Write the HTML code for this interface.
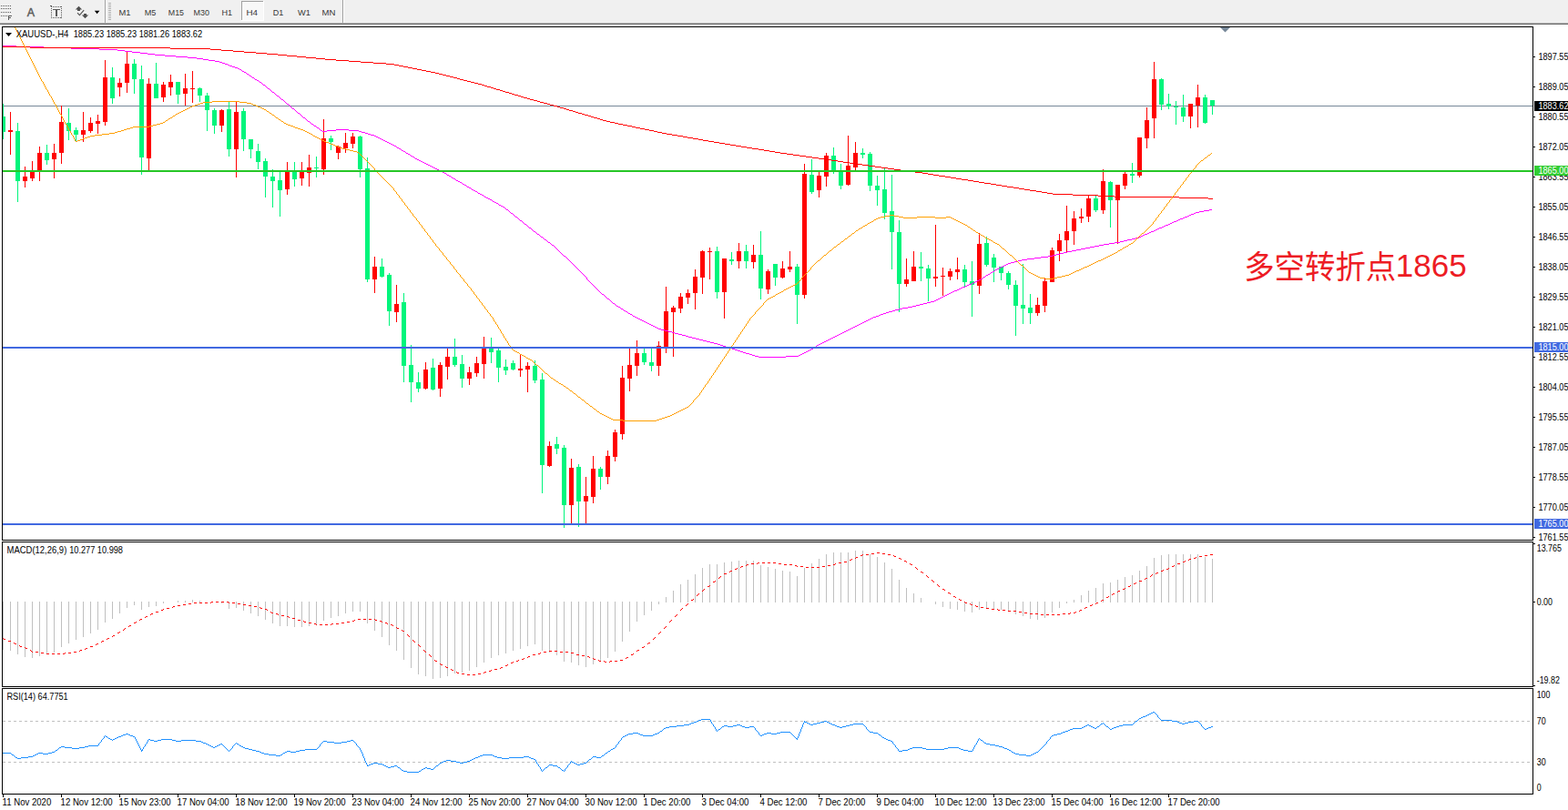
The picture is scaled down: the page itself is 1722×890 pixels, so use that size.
<!DOCTYPE html><html><head><meta charset="utf-8"><title>XAUUSD H4</title>
<style>html,body{margin:0;padding:0;background:#fff}body{width:1722px;height:890px;overflow:hidden;position:relative;font-family:"Liberation Sans",sans-serif}svg{position:absolute;left:0;top:0}text{font-family:"Liberation Sans",sans-serif}</style></head><body>
<svg width="1722" height="890" viewBox="0 0 1722 890">
<g shape-rendering="crispEdges">
<rect x="0" y="0" width="1722" height="25" fill="#f0f0f0"/>
<rect x="0" y="25" width="1722" height="1" fill="#acacac"/>
<rect x="0" y="26" width="1722" height="1" fill="#6c6c6c"/>
<rect x="115" y="0" width="1" height="25" fill="#a0a0a0"/><rect x="116" y="0" width="1" height="25" fill="#ffffff"/>
<rect x="376" y="0" width="1" height="25" fill="#a0a0a0"/><rect x="377" y="0" width="1" height="25" fill="#ffffff"/>
<rect x="119" y="3" width="3" height="1" fill="#b0b0b0"/>
<rect x="119" y="5" width="3" height="1" fill="#b0b0b0"/>
<rect x="119" y="7" width="3" height="1" fill="#b0b0b0"/>
<rect x="119" y="9" width="3" height="1" fill="#b0b0b0"/>
<rect x="119" y="11" width="3" height="1" fill="#b0b0b0"/>
<rect x="119" y="13" width="3" height="1" fill="#b0b0b0"/>
<rect x="119" y="15" width="3" height="1" fill="#b0b0b0"/>
<rect x="119" y="17" width="3" height="1" fill="#b0b0b0"/>
<rect x="119" y="19" width="3" height="1" fill="#b0b0b0"/>
<rect x="119" y="21" width="3" height="1" fill="#b0b0b0"/>
<rect x="265" y="1" width="25" height="22" fill="#f8f8f8"/>
<rect x="265" y="1" width="25" height="1" fill="#a0a0a0"/><rect x="265" y="1" width="1" height="22" fill="#a0a0a0"/>
<rect x="265" y="22" width="25" height="1" fill="#ffffff"/><rect x="289" y="1" width="1" height="22" fill="#ffffff"/>
</g>
<g shape-rendering="crispEdges" fill="#5a5a5a"><rect x="1" y="6" width="1" height="1"/><rect x="3" y="6" width="1" height="1"/><rect x="5" y="6" width="1" height="1"/><rect x="7" y="6" width="1" height="1"/><rect x="9" y="6" width="1" height="1"/><rect x="11" y="6" width="1" height="1"/><rect x="1" y="9" width="1" height="1"/><rect x="3" y="9" width="1" height="1"/><rect x="5" y="9" width="1" height="1"/><rect x="7" y="9" width="1" height="1"/><rect x="9" y="9" width="1" height="1"/><rect x="11" y="9" width="1" height="1"/><rect x="1" y="13" width="1" height="1"/><rect x="3" y="13" width="1" height="1"/><rect x="5" y="13" width="1" height="1"/><rect x="7" y="13" width="1" height="1"/><rect x="9" y="13" width="1" height="1"/><rect x="11" y="13" width="1" height="1"/><rect x="1" y="17" width="1" height="1"/><rect x="3" y="17" width="1" height="1"/><rect x="5" y="17" width="1" height="1"/><rect x="7" y="17" width="1" height="1"/><rect x="9" y="17" width="1" height="5"/><rect x="9" y="17" width="4" height="1"/><rect x="9" y="19" width="3" height="1"/><rect x="56" y="7" width="1" height="1"/><rect x="56" y="19" width="1" height="1"/><rect x="58" y="7" width="1" height="1"/><rect x="58" y="19" width="1" height="1"/><rect x="60" y="7" width="1" height="1"/><rect x="60" y="19" width="1" height="1"/><rect x="62" y="7" width="1" height="1"/><rect x="62" y="19" width="1" height="1"/><rect x="64" y="7" width="1" height="1"/><rect x="64" y="19" width="1" height="1"/><rect x="66" y="7" width="1" height="1"/><rect x="66" y="19" width="1" height="1"/><rect x="56" y="9" width="1" height="1"/><rect x="67" y="9" width="1" height="1"/><rect x="56" y="11" width="1" height="1"/><rect x="67" y="11" width="1" height="1"/><rect x="56" y="13" width="1" height="1"/><rect x="67" y="13" width="1" height="1"/><rect x="56" y="15" width="1" height="1"/><rect x="67" y="15" width="1" height="1"/><rect x="56" y="17" width="1" height="1"/><rect x="67" y="17" width="1" height="1"/><rect x="55" y="6" width="2" height="1"/><rect x="67" y="7" width="1" height="1"/><rect x="67" y="19" width="1" height="1"/><rect x="58" y="10" width="8" height="1"/><rect x="61" y="10" width="2" height="8"/></g>
<text x="29.700" y="18" font-size="12.400" fill="#5a5a5a" stroke="#5a5a5a" stroke-width="0.450">A</text>
<path fill="#505050" d="M86.500 6.800L90.200 10.600H88V12H85V10.600H82.800zM93.500 20.200L89.800 16.400H92V15H95V16.400H97.200z"/>
<path fill="none" stroke="#505050" stroke-width="1.100" d="M85 14.200L87.400 16.600L92.200 11.200"/>
<path fill="#000" d="M103.800 11.800H109.400L106.600 15.200z"/>
<text x="130.4" y="17" font-size="9.500" fill="#383838" textLength="13.0" lengthAdjust="spacingAndGlyphs">M1</text>
<text x="158.7" y="17" font-size="9.500" fill="#383838" textLength="12.6" lengthAdjust="spacingAndGlyphs">M5</text>
<text x="184.8" y="17" font-size="9.500" fill="#383838" textLength="17.2" lengthAdjust="spacingAndGlyphs">M15</text>
<text x="212.6" y="17" font-size="9.500" fill="#383838" textLength="17.4" lengthAdjust="spacingAndGlyphs">M30</text>
<text x="243.5" y="17" font-size="9.500" fill="#383838" textLength="11.6" lengthAdjust="spacingAndGlyphs">H1</text>
<text x="270.4" y="17" font-size="9.500" fill="#383838" textLength="12.6" lengthAdjust="spacingAndGlyphs">H4</text>
<text x="299.7" y="17" font-size="9.500" fill="#383838" textLength="11.6" lengthAdjust="spacingAndGlyphs">D1</text>
<text x="327.1" y="17" font-size="9.500" fill="#383838" textLength="13.9" lengthAdjust="spacingAndGlyphs">W1</text>
<text x="353.6" y="17" font-size="9.500" fill="#383838" textLength="14.9" lengthAdjust="spacingAndGlyphs">MN</text>
<g shape-rendering="crispEdges" fill="none" stroke="#000" stroke-width="1">
<path d="M2.5 29.5H1683.5M2.5 593.5H1683.5M2.5 29V594M1683.5 29V594"/>
<path d="M2.5 595.5H1683.5M2.5 754.5H1683.5M2.5 595V755M1683.5 595V755"/>
<path d="M2.5 756.5H1683.5M2.5 872.5H1683.5M2.5 756V873M1683.5 756V873"/>
</g>
<defs><clipPath id="cm"><rect x="3" y="30" width="1680" height="563"/></clipPath></defs>
<g clip-path="url(#cm)">
<rect x="3" y="116" width="1680" height="1" fill="#778899" shape-rendering="crispEdges"/>
<g shape-rendering="crispEdges">
<path fill="#00f57c" d="M3 114h1V153h-1zM1 128h5V145h-5zM19 135h1V222h-1zM17 144h5V199h-5zM51 159h1V181h-1zM49 168h5V176h-5zM75 119h1V154h-1zM73 135h5V144h-5zM83 140h1V156h-1zM81 143h5V148h-5zM123 74h1V114h-1zM121 85h5V108h-5zM147 65h1V103h-1zM145 70h5V87h-5zM155 72h1V192h-1zM153 87h5V173h-5zM171 69h1V108h-1zM169 92h5V108h-5zM195 90h1V114h-1zM193 90h5V104h-5zM219 96h1V112h-1zM217 97h5V105h-5zM227 102h1V144h-1zM225 105h5V121h-5zM235 119h1V147h-1zM233 121h5V138h-5zM251 112h1V172h-1zM249 120h5V164h-5zM267 119h1V166h-1zM265 122h5V153h-5zM275 153h1V174h-1zM273 153h5V164h-5zM283 158h1V186h-1zM281 166h5V178h-5zM291 174h1V217h-1zM289 177h5V194h-5zM299 186h1V228h-1zM297 194h5V199h-5zM307 189h1V238h-1zM305 198h5V209h-5zM323 178h1V205h-1zM321 189h5V197h-5zM347 172h1V195h-1zM345 184h5V185h-5zM363 149h1V165h-1zM361 152h5V156h-5zM395 149h1V195h-1zM393 150h5V186h-5zM403 173h1V310h-1zM401 185h5V307h-5zM419 284h1V305h-1zM417 293h5V304h-5zM427 300h1V358h-1zM425 302h5V342h-5zM443 322h1V420h-1zM441 332h5V402h-5zM451 379h1V442h-1zM449 401h5V420h-5zM459 409h1V431h-1zM457 420h5V427h-5zM475 394h1V429h-1zM473 404h5V428h-5zM499 372h1V403h-1zM497 392h5V401h-5zM507 390h1V426h-1zM505 400h5V416h-5zM539 371h1V399h-1zM537 383h5V387h-5zM547 383h1V420h-1zM545 385h5V404h-5zM555 395h1V412h-1zM553 403h5V407h-5zM563 396h1V407h-1zM561 399h5V406h-5zM587 396h1V421h-1zM585 402h5V418h-5zM595 410h1V542h-1zM593 417h5V511h-5zM611 480h1V499h-1zM609 488h5V493h-5zM619 489h1V580h-1zM617 492h5V555h-5zM635 510h1V579h-1zM633 513h5V551h-5zM659 513h1V538h-1zM657 515h5V524h-5zM707 383h1V401h-1zM705 388h5V398h-5zM715 383h1V408h-1zM713 398h5V402h-5zM787 271h1V328h-1zM785 276h5V321h-5zM803 277h1V291h-1zM801 285h5V287h-5zM819 269h1V295h-1zM817 276h5V287h-5zM835 254h1V329h-1zM833 280h5V317h-5zM851 290h1V314h-1zM849 290h5V305h-5zM875 290h1V356h-1zM873 293h5V324h-5zM891 175h1V213h-1zM889 192h5V211h-5zM915 162h1V191h-1zM913 171h5V187h-5zM923 180h1V208h-1zM921 187h5V204h-5zM947 163h1V174h-1zM945 168h5V170h-5zM955 167h1V210h-1zM953 169h5V204h-5zM963 193h1V226h-1zM961 204h5V209h-5zM971 185h1V241h-1zM969 208h5V234h-5zM979 192h1V296h-1zM977 232h5V255h-5zM987 242h1V343h-1zM985 255h5V312h-5zM1011 277h1V309h-1zM1009 293h5V295h-5zM1019 291h1V331h-1zM1017 295h5V306h-5zM1059 291h1V315h-1zM1057 296h5V310h-5zM1067 287h1V348h-1zM1065 309h5V313h-5zM1083 260h1V293h-1zM1081 267h5V291h-5zM1091 279h1V310h-1zM1089 283h5V294h-5zM1099 293h1V308h-1zM1097 293h5V300h-5zM1107 298h1V318h-1zM1105 300h5V313h-5zM1115 308h1V369h-1zM1113 313h5V336h-5zM1123 290h1V356h-1zM1121 335h5V339h-5zM1131 323h1V356h-1zM1129 338h5V344h-5zM1203 214h1V233h-1zM1201 218h5V231h-5zM1219 199h1V250h-1zM1217 200h5V220h-5zM1243 179h1V201h-1zM1241 191h5V193h-5zM1275 86h1V121h-1zM1273 87h5V115h-5zM1283 103h1V120h-1zM1281 114h5V117h-5zM1291 111h1V137h-1zM1289 117h5V118h-5zM1299 104h1V134h-1zM1297 118h5V128h-5zM1323 104h1V136h-1zM1321 107h5V135h-5zM1331 110h1V126h-1zM1329 110h5V116h-5z"/>
<path fill="#ff0000" d="M11 123h1V170h-1zM9 143h5V145h-5zM27 183h1V206h-1zM25 194h5V199h-5zM35 177h1V199h-1zM33 189h5V196h-5zM43 161h1V199h-1zM41 168h5V188h-5zM59 158h1V196h-1zM57 168h5V175h-5zM67 116h1V180h-1zM65 134h5V168h-5zM91 123h1V156h-1zM89 143h5V148h-5zM99 129h1V146h-1zM97 135h5V144h-5zM107 126h1V147h-1zM105 133h5V136h-5zM115 66h1V138h-1zM113 85h5V134h-5zM131 86h1V106h-1zM129 91h5V96h-5zM139 57h1V102h-1zM137 70h5V91h-5zM163 86h1V187h-1zM161 92h5V174h-5zM179 90h1V112h-1zM177 93h5V107h-5zM187 82h1V105h-1zM185 90h5V96h-5zM203 81h1V116h-1zM201 97h5V103h-5zM211 78h1V113h-1zM209 97h5V98h-5zM243 120h1V145h-1zM241 121h5V138h-5zM259 112h1V195h-1zM257 123h5V164h-5zM315 178h1V214h-1zM313 189h5V208h-5zM331 178h1V204h-1zM329 189h5V196h-5zM339 170h1V205h-1zM337 184h5V190h-5zM355 131h1V192h-1zM353 152h5V186h-5zM371 160h1V175h-1zM369 161h5V168h-5zM379 146h1V168h-1zM377 157h5V163h-5zM387 146h1V163h-1zM385 150h5V158h-5zM411 282h1V322h-1zM409 293h5V307h-5zM435 313h1V354h-1zM433 334h5V343h-5zM467 398h1V428h-1zM465 406h5V427h-5zM483 398h1V436h-1zM481 401h5V427h-5zM491 383h1V417h-1zM489 392h5V403h-5zM515 403h1V423h-1zM513 409h5V416h-5zM523 392h1V414h-1zM521 399h5V410h-5zM531 370h1V416h-1zM529 383h5V400h-5zM571 389h1V414h-1zM569 405h5V407h-5zM579 398h1V431h-1zM577 402h5V406h-5zM603 485h1V513h-1zM601 490h5V512h-5zM627 504h1V575h-1zM625 514h5V555h-5zM643 524h1V575h-1zM641 545h5V551h-5zM651 501h1V553h-1zM649 515h5V546h-5zM667 495h1V532h-1zM665 501h5V524h-5zM675 472h1V507h-1zM673 475h5V502h-5zM683 402h1V483h-1zM681 415h5V477h-5zM691 383h1V430h-1zM689 401h5V416h-5zM699 374h1V413h-1zM697 388h5V402h-5zM723 375h1V413h-1zM721 380h5V402h-5zM731 315h1V388h-1zM729 342h5V381h-5zM739 336h1V392h-1zM737 338h5V343h-5zM747 322h1V344h-1zM745 326h5V339h-5zM755 318h1V334h-1zM753 322h5V327h-5zM763 296h1V340h-1zM761 304h5V322h-5zM771 275h1V323h-1zM769 276h5V305h-5zM779 272h1V307h-1zM777 276h5V277h-5zM795 284h1V350h-1zM793 284h5V321h-5zM811 267h1V295h-1zM809 276h5V287h-5zM827 269h1V295h-1zM825 280h5V288h-5zM843 296h1V323h-1zM841 298h5V318h-5zM859 287h1V306h-1zM857 295h5V305h-5zM867 276h1V299h-1zM865 293h5V296h-5zM883 180h1V328h-1zM881 191h5V324h-5zM899 189h1V217h-1zM897 193h5V209h-5zM907 168h1V205h-1zM905 171h5V194h-5zM931 149h1V204h-1zM929 182h5V203h-5zM939 156h1V187h-1zM937 168h5V184h-5zM995 284h1V315h-1zM993 307h5V312h-5zM1003 276h1V309h-1zM1001 293h5V309h-5zM1027 247h1V315h-1zM1025 304h5V306h-5zM1035 294h1V325h-1zM1033 303h5V304h-5zM1043 295h1V308h-1zM1041 298h5V304h-5zM1051 283h1V307h-1zM1049 296h5V299h-5zM1075 256h1V323h-1zM1073 268h5V314h-5zM1139 327h1V347h-1zM1137 335h5V344h-5zM1147 305h1V343h-1zM1145 309h5V336h-5zM1155 272h1V310h-1zM1153 275h5V310h-5zM1163 257h1V287h-1zM1161 264h5V276h-5zM1171 226h1V277h-1zM1169 254h5V264h-5zM1179 232h1V269h-1zM1177 240h5V254h-5zM1187 229h1V245h-1zM1185 238h5V240h-5zM1195 214h1V244h-1zM1193 218h5V238h-5zM1211 186h1V235h-1zM1209 199h5V231h-5zM1227 203h1V268h-1zM1225 203h5V220h-5zM1235 189h1V208h-1zM1233 191h5V204h-5zM1251 151h1V195h-1zM1249 151h5V193h-5zM1259 118h1V163h-1zM1257 132h5V152h-5zM1267 68h1V152h-1zM1265 87h5V130h-5zM1307 114h1V141h-1zM1305 114h5V128h-5zM1315 93h1V140h-1zM1313 107h5V116h-5z"/>
</g>
<path fill="#ff00ff" shape-rendering="crispEdges" d="M644 305h1v2h-1zM613 275h1v1h-1zM1177 275h5v1h-5zM621 282h1v1h-1zM1143 282h8v1h-8zM247 70h3v1h-3zM443 166h2v1h-2zM351 142h1v1h-1zM369 142h14v1h-14zM626 287h1v1h-1zM1114 287h4v1h-4zM563 235h1v1h-1zM1308 235h3v1h-3zM589 256h1v1h-1zM1260 256h2v1h-2zM435 161h1v1h-1zM689 343h1v1h-1zM973 343h3v1h-3zM181 61h12v1h-12zM829 391h4v1h-4zM863 391h14v1h-14zM436 162h2v1h-2zM596 261h1v1h-1zM1247 261h4v1h-4zM641 302h1v1h-1zM1083 302h2v1h-2zM741 366h4v1h-4zM923 366h2v1h-2zM565 237h1v1h-1zM1304 237h2v1h-2zM606 269h2v1h-2zM1207 269h5v1h-5zM532 216h2v1h-2zM223 65h6v1h-6zM525 212h2v1h-2zM633 294h1v1h-1zM1097 294h2v1h-2zM600 264h1v1h-1zM1234 264h4v1h-4zM162 59h8v1h-8zM48 52h30v1h-30zM610 272h1v1h-1zM1192 272h5v1h-5zM304 105h2v1h-2zM315 114h2v1h-2zM491 192h2v1h-2zM206 63h10v1h-10zM651 313h1v1h-1zM1062 313h2v1h-2zM604 267h1v1h-1zM1218 267h6v1h-6zM78 53h31v1h-31zM653 315h1v1h-1zM1057 315h3v1h-3zM695 347h2v1h-2zM962 347h3v1h-3zM833 392h30v1h-30zM438 163h2v1h-2zM584 252h1v1h-1zM1269 252h2v1h-2zM643 304h1v1h-1zM1080 304h2v1h-2zM137 56h8v1h-8zM3 50h15v1h-15zM585 253h1v1h-1zM1267 253h2v1h-2zM677 336h2v1h-2zM1002 336h4v1h-4zM1077 306h2v1h-2zM655 317h1v1h-1zM1053 317h2v1h-2zM568 239h1v1h-1zM1299 239h2v1h-2zM431 159h2v1h-2zM423 155h2v1h-2zM415 151h2v1h-2zM170 60h11v1h-11zM570 241h1v1h-1zM1294 241h2v1h-2zM407 148h4v1h-4zM520 209h2v1h-2zM513 205h2v1h-2zM18 51h30v1h-30zM601 265h1v1h-1zM1230 265h4v1h-4zM586 254h2v1h-2zM1264 254h3v1h-3zM756 370h4v1h-4zM915 370h2v1h-2zM745 367h4v1h-4zM921 367h2v1h-2zM764 372h4v1h-4zM911 372h2v1h-2zM154 58h8v1h-8zM667 328h2v1h-2zM1030 328h2v1h-2zM823 389h3v1h-3zM879 389h2v1h-2zM193 62h13v1h-13zM453 172h2v1h-2zM1079 305h1v1h-1zM768 373h4v1h-4zM909 373h2v1h-2zM628 289h1v1h-1zM1107 289h3v1h-3zM580 249h1v1h-1zM1276 249h2v1h-2zM707 353h2v1h-2zM949 353h2v1h-2zM699 349h2v1h-2zM957 349h2v1h-2zM672 332h1v1h-1zM1018 332h4v1h-4zM826 390h3v1h-3zM877 390h2v1h-2zM550 226h2v1h-2zM661 323h2v1h-2zM1040 323h2v1h-2zM797 381h3v1h-3zM894 381h2v1h-2zM623 284h1v1h-1zM1128 284h8v1h-8zM354 144h5v1h-5zM394 144h3v1h-3zM508 202h2v1h-2zM216 64h7v1h-7zM648 310h1v1h-1zM1069 310h2v1h-2zM676 335h1v1h-1zM1006 335h4v1h-4zM794 380h3v1h-3zM896 380h1v1h-1zM559 232h1v1h-1zM1317 232h5v1h-5zM574 244h1v1h-1zM1287 244h2v1h-2zM352 143h2v1h-2zM359 143h10v1h-10zM383 143h11v1h-11zM772 374h4v1h-4zM907 374h2v1h-2zM701 350h2v1h-2zM955 350h2v1h-2zM564 236h1v1h-1zM1306 236h2v1h-2zM629 290h1v1h-1zM1105 290h2v1h-2zM575 245h1v1h-1zM1285 245h2v1h-2zM635 296h1v1h-1zM1093 296h2v1h-2zM441 165h2v1h-2zM685 341h2v1h-2zM980 341h3v1h-3zM576 246h2v1h-2zM1283 246h2v1h-2zM687 342h2v1h-2zM976 342h4v1h-4zM545 223h2v1h-2zM538 219h2v1h-2zM657 319h1v1h-1zM1048 319h3v1h-3zM684 340h1v1h-1zM983 340h4v1h-4zM647 309h1v1h-1zM1071 309h2v1h-2zM738 365h3v1h-3zM925 365h2v1h-2zM496 195h2v1h-2zM690 344h2v1h-2zM970 344h3v1h-3zM810 385h3v1h-3zM887 385h2v1h-2zM776 375h4v1h-4zM905 375h2v1h-2zM671 331h1v1h-1zM1022 331h4v1h-4zM560 233h1v1h-1zM1313 233h4v1h-4zM571 242h2v1h-2zM1292 242h2v1h-2zM581 250h2v1h-2zM1273 250h3v1h-3zM429 158h2v1h-2zM421 154h2v1h-2zM597 262h1v1h-1zM1243 262h4v1h-4zM682 339h2v1h-2zM987 339h4v1h-4zM615 277h1v1h-1zM1168 277h4v1h-4zM518 208h2v1h-2zM813 386h3v1h-3zM885 386h2v1h-2zM663 324h1v1h-1zM1038 324h2v1h-2zM109 54h20v1h-20zM713 356h2v1h-2zM943 356h2v1h-2zM338 133h2v1h-2zM618 280h1v1h-1zM1156 280h4v1h-4zM484 188h2v1h-2zM327 124h2v1h-2zM791 379h3v1h-3zM897 379h2v1h-2zM458 175h2v1h-2zM711 355h2v1h-2zM945 355h2v1h-2zM566 238h2v1h-2zM1301 238h3v1h-3zM637 298h1v1h-1zM1090 298h2v1h-2zM548 225h2v1h-2zM417 152h2v1h-2zM634 295h1v1h-1zM1095 295h2v1h-2zM569 240h1v1h-1zM1296 240h3v1h-3zM333 129h2v1h-2zM505 200h2v1h-2zM507 201h1v1h-1zM323 120h1v1h-1zM446 168h2v1h-2zM670 330h1v1h-1zM1026 330h2v1h-2zM241 68h3v1h-3zM726 362h4v1h-4zM931 362h2v1h-2zM592 258h1v1h-1zM1255 258h2v1h-2zM244 69h3v1h-3zM692 345h2v1h-2zM967 345h3v1h-3zM543 222h2v1h-2zM658 320h1v1h-1zM1046 320h2v1h-2zM536 218h2v1h-2zM804 383h3v1h-3zM891 383h2v1h-2zM734 364h4v1h-4zM927 364h2v1h-2zM493 193h2v1h-2zM495 194h1v1h-1zM638 299h1v1h-1zM1088 299h2v1h-2zM593 259h1v1h-1zM1253 259h2v1h-2zM679 337h2v1h-2zM997 337h5v1h-5zM760 371h4v1h-4zM913 371h2v1h-2zM588 255h1v1h-1zM1262 255h2v1h-2zM531 215h1v1h-1zM556 230h2v1h-2zM1328 230h3v1h-3zM427 157h2v1h-2zM419 153h2v1h-2zM522 210h2v1h-2zM675 334h1v1h-1zM1010 334h4v1h-4zM524 211h1v1h-1zM342 136h2v1h-2zM649 311h1v1h-1zM1067 311h2v1h-2zM288 92h1v1h-1zM788 378h3v1h-3zM899 378h2v1h-2zM482 187h2v1h-2zM474 183h2v1h-2zM612 274h1v1h-1zM1182 274h5v1h-5zM631 292h1v1h-1zM1101 292h2v1h-2zM456 174h2v1h-2zM784 377h4v1h-4zM901 377h2v1h-2zM583 251h1v1h-1zM1271 251h2v1h-2zM664 325h1v1h-1zM1036 325h2v1h-2zM594 260h2v1h-2zM1251 260h2v1h-2zM413 150h2v1h-2zM608 270h1v1h-1zM1202 270h5v1h-5zM510 203h2v1h-2zM512 204h1v1h-1zM717 358h2v1h-2zM939 358h2v1h-2zM697 348h2v1h-2zM959 348h3v1h-3zM578 247h1v1h-1zM1280 247h3v1h-3zM579 248h1v1h-1zM1278 248h2v1h-2zM590 257h2v1h-2zM1257 257h3v1h-3zM541 221h2v1h-2zM624 285h1v1h-1zM1122 285h6v1h-6zM345 138h2v1h-2zM498 196h2v1h-2zM500 197h1v1h-1zM252 72h3v1h-3zM602 266h2v1h-2zM1224 266h6v1h-6zM669 329h1v1h-1zM1028 329h2v1h-2zM666 327h1v1h-1zM1032 327h2v1h-2zM529 214h2v1h-2zM705 352h2v1h-2zM951 352h2v1h-2zM807 384h3v1h-3zM889 384h2v1h-2zM709 354h2v1h-2zM947 354h2v1h-2zM330 126h1v1h-1zM341 135h1v1h-1zM486 189h2v1h-2zM488 190h2v1h-2zM480 186h2v1h-2zM266 78h2v1h-2zM640 301h1v1h-1zM1085 301h2v1h-2zM145 57h9v1h-9zM681 338h1v1h-1zM991 338h6v1h-6zM730 363h4v1h-4zM929 363h2v1h-2zM630 291h1v1h-1zM1103 291h2v1h-2zM598 263h2v1h-2zM1238 263h5v1h-5zM819 388h4v1h-4zM881 388h2v1h-2zM236 67h5v1h-5zM673 333h2v1h-2zM1014 333h4v1h-4zM411 149h2v1h-2zM517 207h1v1h-1zM336 131h1v1h-1zM337 132h1v1h-1zM639 300h1v1h-1zM1087 300h1v1h-1zM280 87h2v1h-2zM780 376h4v1h-4zM903 376h2v1h-2zM636 297h1v1h-1zM1092 297h1v1h-1zM616 278h1v1h-1zM1164 278h4v1h-4zM753 369h3v1h-3zM917 369h2v1h-2zM321 119h2v1h-2zM332 128h1v1h-1zM294 97h2v1h-2zM715 357h2v1h-2zM941 357h2v1h-2zM652 314h1v1h-1zM1060 314h2v1h-2zM719 359h2v1h-2zM937 359h2v1h-2zM654 316h1v1h-1zM1055 316h2v1h-2zM642 303h1v1h-1zM1082 303h1v1h-1zM534 217h2v1h-2zM527 213h2v1h-2zM347 139h1v1h-1zM271 81h2v1h-2zM291 94h1v1h-1zM478 185h2v1h-2zM425 156h2v1h-2zM816 387h3v1h-3zM883 387h2v1h-2zM129 55h8v1h-8zM800 382h4v1h-4zM893 382h1v1h-1zM558 231h1v1h-1zM1322 231h6v1h-6zM515 206h2v1h-2zM285 90h2v1h-2zM619 281h2v1h-2zM1151 281h5v1h-5zM609 271h1v1h-1zM1197 271h5v1h-5zM650 312h1v1h-1zM1064 312h3v1h-3zM348 140h2v1h-2zM501 198h2v1h-2zM503 199h2v1h-2zM274 83h2v1h-2zM605 268h1v1h-1zM1212 268h6v1h-6zM622 283h1v1h-1zM1136 283h7v1h-7zM404 147h3v1h-3zM344 137h1v1h-1zM490 191h1v1h-1zM268 79h2v1h-2zM270 80h1v1h-1zM614 276h1v1h-1zM1172 276h5v1h-5zM646 308h1v1h-1zM1073 308h2v1h-2zM229 66h7v1h-7zM573 243h1v1h-1zM1289 243h3v1h-3zM470 181h2v1h-2zM723 361h3v1h-3zM933 361h2v1h-2zM464 178h2v1h-2zM659 321h1v1h-1zM1044 321h2v1h-2zM749 368h4v1h-4zM919 368h2v1h-2zM335 130h1v1h-1zM279 86h1v1h-1zM401 146h3v1h-3zM617 279h1v1h-1zM1160 279h4v1h-4zM611 273h1v1h-1zM1187 273h5v1h-5zM665 326h1v1h-1zM1034 326h2v1h-2zM261 75h2v1h-2zM476 184h2v1h-2zM468 180h2v1h-2zM263 76h2v1h-2zM460 176h2v1h-2zM284 89h1v1h-1zM277 85h2v1h-2zM627 288h1v1h-1zM1110 288h4v1h-4zM448 169h2v1h-2zM645 307h1v1h-1zM1075 307h2v1h-2zM273 82h1v1h-1zM250 71h2v1h-2zM472 182h2v1h-2zM258 74h3v1h-3zM466 179h2v1h-2zM299 101h2v1h-2zM301 102h1v1h-1zM312 111h1v1h-1zM282 88h2v1h-2zM721 360h2v1h-2zM935 360h2v1h-2zM397 145h4v1h-4zM296 98h1v1h-1zM307 107h1v1h-1zM297 99h1v1h-1zM308 108h1v1h-1zM625 286h1v1h-1zM1118 286h4v1h-4zM660 322h1v1h-1zM1042 322h2v1h-2zM292 95h1v1h-1zM303 104h1v1h-1zM314 113h1v1h-1zM265 77h1v1h-1zM632 293h1v1h-1zM1099 293h2v1h-2zM287 91h1v1h-1zM298 100h1v1h-1zM561 234h2v1h-2zM1311 234h2v1h-2zM451 171h2v1h-2zM293 96h1v1h-1zM694 346h1v1h-1zM965 346h2v1h-2zM656 318h1v1h-1zM1051 318h2v1h-2zM440 164h1v1h-1zM289 93h2v1h-2zM255 73h3v1h-3zM326 123h1v1h-1zM703 351h2v1h-2zM953 351h2v1h-2zM554 228h1v1h-1zM555 229h1v1h-1zM309 109h2v1h-2zM311 110h1v1h-1zM445 167h1v1h-1zM276 84h1v1h-1zM306 106h1v1h-1zM433 160h2v1h-2zM302 103h1v1h-1zM462 177h2v1h-2zM552 227h2v1h-2zM450 170h1v1h-1zM547 224h1v1h-1zM540 220h1v1h-1zM317 115h1v1h-1zM318 116h1v1h-1zM329 125h1v1h-1zM340 134h1v1h-1zM313 112h1v1h-1zM324 121h1v1h-1zM325 122h1v1h-1zM455 173h1v1h-1zM319 117h1v1h-1zM350 141h1v1h-1zM320 118h1v1h-1zM331 127h1v1h-1z"/>
<path fill="#ff0000" shape-rendering="crispEdges" d="M1044 195h6v1h-6zM1178 214h28v1h-28zM369 66h14v1h-14zM532 94h3v1h-3zM722 145h5v1h-5zM778 155h6v1h-6zM933 179h7v1h-7zM1088 202h6v1h-6zM33 52h154v1h-154zM187 53h44v1h-44zM656 130h3v1h-3zM871 170h7v1h-7zM1131 209h7v1h-7zM525 92h4v1h-4zM1138 210h6v1h-6zM920 177h6v1h-6zM698 140h5v1h-5zM1156 213h22v1h-22zM448 74h5v1h-5zM293 59h12v1h-12zM1063 198h6v1h-6zM555 101h4v1h-4zM857 168h7v1h-7zM796 158h6v1h-6zM1106 205h7v1h-7zM433 71h5v1h-5zM243 55h13v1h-13zM559 102h3v1h-3zM1150 212h6v1h-6zM281 58h12v1h-12zM615 118h4v1h-4zM940 180h7v1h-7zM535 95h4v1h-4zM713 143h5v1h-5zM3 51h30v1h-30zM582 109h4v1h-4zM1019 191h6v1h-6zM639 125h3v1h-3zM814 161h6v1h-6zM968 184h7v1h-7zM1125 208h6v1h-6zM569 105h3v1h-3zM1069 199h6v1h-6zM1113 206h6v1h-6zM892 173h7v1h-7zM424 70h9v1h-9zM231 54h12v1h-12zM478 80h4v1h-4zM833 164h6v1h-6zM268 57h13v1h-13zM593 112h4v1h-4zM878 171h7v1h-7zM1081 201h7v1h-7zM1224 216h71v1h-71zM517 90h4v1h-4zM961 183h7v1h-7zM494 84h4v1h-4zM619 119h3v1h-3zM383 67h13v1h-13zM326 62h10v1h-10zM790 157h6v1h-6zM1327 218h5v1h-5zM482 81h4v1h-4zM989 187h8v1h-8zM305 60h10v1h-10zM315 61h11v1h-11zM913 176h7v1h-7zM410 69h14v1h-14zM808 160h6v1h-6zM443 73h5v1h-5zM347 64h10v1h-10zM505 87h4v1h-4zM1295 217h32v1h-32zM1013 190h6v1h-6zM694 139h4v1h-4zM851 167h6v1h-6zM498 85h4v1h-4zM899 174h7v1h-7zM839 165h6v1h-6zM473 79h5v1h-5zM826 163h7v1h-7zM982 186h7v1h-7zM767 153h5v1h-5zM590 111h3v1h-3zM256 56h12v1h-12zM906 175h7v1h-7zM954 182h7v1h-7zM490 83h4v1h-4zM784 156h6v1h-6zM357 65h12v1h-12zM649 128h3v1h-3zM396 68h14v1h-14zM438 72h5v1h-5zM502 86h3v1h-3zM689 138h5v1h-5zM744 149h6v1h-6zM675 135h4v1h-4zM1100 204h6v1h-6zM727 146h5v1h-5zM1144 211h6v1h-6zM1038 194h6v1h-6zM975 185h7v1h-7zM761 152h6v1h-6zM802 159h6v1h-6zM1056 197h7v1h-7zM552 100h3v1h-3zM1206 215h18v1h-18zM718 144h4v1h-4zM586 110h4v1h-4zM1119 207h6v1h-6zM612 117h3v1h-3zM738 148h6v1h-6zM997 188h8v1h-8zM670 134h5v1h-5zM336 63h11v1h-11zM845 166h6v1h-6zM549 99h3v1h-3zM1005 189h8v1h-8zM1050 196h6v1h-6zM608 116h4v1h-4zM468 78h5v1h-5zM529 93h3v1h-3zM453 75h5v1h-5zM632 123h3v1h-3zM562 103h3v1h-3zM947 181h7v1h-7zM732 147h6v1h-6zM666 133h4v1h-4zM642 126h4v1h-4zM635 124h4v1h-4zM521 91h4v1h-4zM629 122h3v1h-3zM463 77h5v1h-5zM755 151h6v1h-6zM662 132h4v1h-4zM864 169h7v1h-7zM542 97h3v1h-3zM885 172h7v1h-7zM458 76h5v1h-5zM575 107h4v1h-4zM545 98h4v1h-4zM601 114h3v1h-3zM604 115h4v1h-4zM1031 193h7v1h-7zM708 142h5v1h-5zM579 108h3v1h-3zM1075 200h6v1h-6zM772 154h6v1h-6zM926 178h7v1h-7zM565 104h4v1h-4zM625 121h4v1h-4zM486 82h4v1h-4zM659 131h3v1h-3zM513 89h4v1h-4zM684 137h5v1h-5zM1094 203h6v1h-6zM539 96h3v1h-3zM703 141h5v1h-5zM572 106h3v1h-3zM622 120h3v1h-3zM597 113h4v1h-4zM820 162h6v1h-6zM1025 192h6v1h-6zM509 88h4v1h-4zM652 129h4v1h-4zM679 136h5v1h-5zM750 150h5v1h-5zM646 127h3v1h-3z"/>
<path fill="#ffa000" shape-rendering="crispEdges" d="M40 77h1v2h-1zM821 353h1v2h-1zM25 47h1v2h-1zM1313 182h1v2h-1zM770 429h1v2h-1zM1308 188h1v2h-1zM65 123h1v2h-1zM460 244h1v2h-1zM68 128h1v2h-1zM1305 192h1v2h-1zM805 377h1v2h-1zM1296 204h1v2h-1zM529 333h1v2h-1zM801 383h1v2h-1zM74 139h1v2h-1zM547 359h1v2h-1zM38 73h1v2h-1zM78 146h1v2h-1zM1284 220h1v2h-1zM20 37h1v2h-1zM23 43h1v2h-1zM447 227h1v2h-1zM67 126h1v2h-1zM70 132h1v2h-1zM795 392h1v2h-1zM553 369h1v2h-1zM557 375h1v2h-1zM791 398h1v2h-1zM16 29h1v2h-1zM517 317h1v2h-1zM520 321h1v2h-1zM59 112h1v2h-1zM546 357h1v2h-1zM549 362h1v2h-1zM498 293h1v2h-1zM838 333h1v2h-1zM33 63h1v2h-1zM555 372h1v2h-1zM558 377h1v2h-1zM478 268h1v2h-1zM774 423h1v2h-1zM57 108h1v2h-1zM441 219h1v2h-1zM58 110h1v2h-1zM532 337h1v2h-1zM61 115h1v2h-1zM797 389h1v2h-1zM809 371h1v2h-1zM49 94h1v2h-1zM50 96h1v2h-1zM31 59h1v2h-1zM466 252h1v2h-1zM1272 236h1v2h-1zM561 381h1v2h-1zM535 341h1v2h-1zM444 223h1v2h-1zM48 92h1v2h-1zM819 356h1v2h-1zM783 410h1v2h-1zM815 362h1v2h-1zM77 144h1v2h-1zM779 416h1v2h-1zM80 149h1v2h-1zM811 368h1v2h-1zM22 41h1v2h-1zM435 211h1v2h-1zM69 130h1v2h-1zM1293 208h1v2h-1zM880 305h1v2h-1zM42 81h1v2h-1zM39 75h1v2h-1zM82 153h1v2h-1zM789 401h1v2h-1zM24 45h1v2h-1zM785 407h1v2h-1zM71 134h1v2h-1zM463 248h1v2h-1zM890 294h1v2h-1zM63 119h1v2h-1zM550 364h1v2h-1zM1299 200h1v2h-1zM450 231h1v2h-1zM15 27h1v2h-1zM18 33h1v2h-1zM1281 224h1v2h-1zM501 297h1v2h-1zM1266 244h1v2h-1zM32 61h1v2h-1zM1269 240h1v2h-1zM793 395h1v2h-1zM17 31h1v2h-1zM52 99h1v2h-1zM768 432h1v2h-1zM469 256h1v2h-1zM41 79h1v2h-1zM44 85h1v2h-1zM432 207h1v2h-1zM523 325h1v2h-1zM26 49h1v2h-1zM538 345h1v2h-1zM799 386h1v2h-1zM1302 196h1v2h-1zM505 302h1v2h-1zM482 273h1v2h-1zM486 278h1v2h-1zM526 329h1v2h-1zM438 215h1v2h-1zM75 141h1v2h-1zM35 67h1v2h-1zM829 343h1v2h-1zM81 151h1v2h-1zM761 440h1v2h-1zM772 426h1v2h-1zM542 351h1v2h-1zM73 137h1v2h-1zM34 65h1v2h-1zM37 71h1v2h-1zM1287 216h1v2h-1zM807 374h1v2h-1zM509 307h1v2h-1zM19 35h1v2h-1zM62 117h1v2h-1zM803 380h1v2h-1zM1290 212h1v2h-1zM475 264h1v2h-1zM552 367h1v2h-1zM490 283h1v2h-1zM823 350h1v2h-1zM54 103h1v2h-1zM453 235h1v2h-1zM43 83h1v2h-1zM28 53h1v2h-1zM781 413h1v2h-1zM813 365h1v2h-1zM777 419h1v2h-1zM53 101h1v2h-1zM56 106h1v2h-1zM45 87h1v2h-1zM513 312h1v2h-1zM411 185h1v2h-1zM27 51h1v2h-1zM494 288h1v2h-1zM457 240h1v2h-1zM472 260h1v2h-1zM541 349h1v2h-1zM544 354h1v2h-1zM36 69h1v2h-1zM21 39h1v2h-1zM817 359h1v2h-1zM64 121h1v2h-1zM1275 232h1v2h-1zM30 57h1v2h-1zM1278 228h1v2h-1zM787 404h1v2h-1zM47 90h1v2h-1zM29 55h1v2h-1zM930 261h1v1h-1zM1082 261h2v1h-2zM1249 261h1v1h-1zM935 257h1v1h-1zM1075 257h2v1h-2zM1253 257h1v1h-1zM953 245h2v1h-2zM1056 245h2v1h-2zM76 143h1v1h-1zM133 143h3v1h-3zM333 143h2v1h-2zM112 147h8v1h-8zM341 147h2v1h-2zM397 171h1v1h-1zM1326 171h1v1h-1zM456 239h1v1h-1zM964 239h3v1h-3zM992 239h15v1h-15zM1027 239h12v1h-12zM1044 239h2v1h-2zM1270 239h1v1h-1zM72 136h1v1h-1zM172 136h4v1h-4zM314 136h2v1h-2zM644 443h2v1h-2zM759 443h1v1h-1zM195 124h2v1h-2zM296 124h2v1h-2zM459 243h1v1h-1zM957 243h2v1h-2zM1052 243h2v1h-2zM1267 243h1v1h-1zM419 194h1v1h-1zM1304 194h1v1h-1zM477 267h1v1h-1zM922 267h1v1h-1zM1093 267h2v1h-2zM1242 267h2v1h-2zM139 141h4v1h-4zM327 141h3v1h-3zM420 195h1v1h-1zM1303 195h1v1h-1zM908 278h1v1h-1zM1107 278h1v1h-1zM1223 278h2v1h-2zM99 149h5v1h-5zM344 149h2v1h-2zM211 116h3v1h-3zM281 116h2v1h-2zM223 112h10v1h-10zM263 112h8v1h-8zM665 457h2v1h-2zM733 457h3v1h-3zM658 453h1v1h-1zM742 453h2v1h-2zM659 454h2v1h-2zM740 454h2v1h-2zM492 286h1v1h-1zM898 286h2v1h-2zM1116 286h1v1h-1zM1206 286h3v1h-3zM455 238h1v1h-1zM967 238h5v1h-5zM987 238h5v1h-5zM1007 238h20v1h-20zM1039 238h5v1h-5zM1271 238h1v1h-1zM88 153h3v1h-3zM352 153h2v1h-2zM233 111h30v1h-30zM847 326h2v1h-2zM584 396h1v1h-1zM146 139h18v1h-18zM322 139h2v1h-2zM883 302h1v1h-1zM1136 302h2v1h-2zM1170 302h4v1h-4zM467 254h1v1h-1zM939 254h1v1h-1zM1071 254h1v1h-1zM1257 254h1v1h-1zM661 455h2v1h-2zM738 455h2v1h-2zM481 272h1v1h-1zM915 272h1v1h-1zM1100 272h1v1h-1zM1233 272h2v1h-2zM468 255h1v1h-1zM938 255h1v1h-1zM1072 255h2v1h-2zM1256 255h1v1h-1zM1285 219h1v1h-1zM907 279h1v1h-1zM1108 279h1v1h-1zM1221 279h2v1h-2zM181 133h1v1h-1zM309 133h2v1h-2zM405 179h1v1h-1zM1316 179h1v1h-1zM514 314h1v1h-1zM869 314h2v1h-2zM426 201h1v1h-1zM201 121h2v1h-2zM292 121h1v1h-1zM179 134h2v1h-2zM311 134h1v1h-1zM209 117h2v1h-2zM283 117h3v1h-3zM176 135h3v1h-3zM312 135h2v1h-2zM361 157h2v1h-2zM488 281h1v1h-1zM904 281h1v1h-1zM1111 281h1v1h-1zM1217 281h2v1h-2zM129 144h4v1h-4zM335 144h2v1h-2zM363 158h3v1h-3zM85 154h3v1h-3zM354 154h2v1h-2zM164 138h4v1h-4zM319 138h3v1h-3zM654 450h1v1h-1zM748 450h2v1h-2zM396 170h1v1h-1zM1327 170h2v1h-2zM504 301h1v1h-1zM884 301h1v1h-1zM1134 301h2v1h-2zM1174 301h2v1h-2zM655 451h1v1h-1zM746 451h2v1h-2zM1273 235h1v1h-1zM214 115h3v1h-3zM278 115h3v1h-3zM120 146h6v1h-6zM339 146h2v1h-2zM461 246h1v1h-1zM952 246h1v1h-1zM1058 246h2v1h-2zM1265 246h1v1h-1zM465 251h1v1h-1zM943 251h2v1h-2zM1066 251h2v1h-2zM1260 251h1v1h-1zM497 292h1v1h-1zM892 292h1v1h-1zM1123 292h1v1h-1zM1194 292h2v1h-2zM506 304h1v1h-1zM881 304h1v1h-1zM1140 304h2v1h-2zM1161 304h5v1h-5zM585 397h1v1h-1zM792 397h1v1h-1zM495 290h1v1h-1zM894 290h1v1h-1zM1120 290h1v1h-1zM1198 290h2v1h-2zM667 458h2v1h-2zM730 458h3v1h-3zM496 291h1v1h-1zM893 291h1v1h-1zM1121 291h2v1h-2zM1196 291h2v1h-2zM400 174h1v1h-1zM1322 174h1v1h-1zM1279 227h1v1h-1zM168 137h4v1h-4zM316 137h3v1h-3zM977 236h5v1h-5zM924 265h2v1h-2zM1090 265h1v1h-1zM1245 265h1v1h-1zM914 273h1v1h-1zM1101 273h2v1h-2zM1232 273h1v1h-1zM882 303h1v1h-1zM1138 303h2v1h-2zM1166 303h4v1h-4zM936 256h2v1h-2zM1074 256h1v1h-1zM1254 256h2v1h-2zM854 322h2v1h-2zM926 264h1v1h-1zM1088 264h2v1h-2zM1246 264h1v1h-1zM650 447h1v1h-1zM754 447h2v1h-2zM462 247h1v1h-1zM950 247h2v1h-2zM1060 247h2v1h-2zM1264 247h1v1h-1zM873 312h2v1h-2zM187 129h2v1h-2zM303 129h2v1h-2zM184 131h1v1h-1zM306 131h2v1h-2zM955 244h2v1h-2zM1054 244h2v1h-2zM962 240h2v1h-2zM1046 240h2v1h-2zM190 127h2v1h-2zM301 127h1v1h-1zM199 122h2v1h-2zM293 122h2v1h-2zM684 462h37v1h-37zM489 282h1v1h-1zM903 282h1v1h-1zM1112 282h1v1h-1zM1215 282h2v1h-2zM528 332h1v1h-1zM839 332h1v1h-1zM516 316h1v1h-1zM865 316h2v1h-2zM428 203h1v1h-1zM1297 203h1v1h-1zM429 204h1v1h-1zM901 284h1v1h-1zM1114 284h1v1h-1zM1211 284h2v1h-2zM673 461h11v1h-11zM721 461h3v1h-3zM856 321h2v1h-2zM942 252h1v1h-1zM1068 252h1v1h-1zM1259 252h1v1h-1zM891 293h1v1h-1zM1124 293h1v1h-1zM1191 293h3v1h-3zM902 283h1v1h-1zM1113 283h1v1h-1zM1213 283h2v1h-2zM545 356h1v1h-1zM831 341h1v1h-1zM539 347h1v1h-1zM826 347h1v1h-1zM582 395h2v1h-2zM388 166h4v1h-4zM616 422h2v1h-2zM775 422h1v1h-1zM402 176h1v1h-1zM1319 176h2v1h-2zM205 119h2v1h-2zM288 119h2v1h-2zM888 297h1v1h-1zM1128 297h1v1h-1zM1182 297h3v1h-3zM203 120h2v1h-2zM290 120h2v1h-2zM919 269h1v1h-1zM1097 269h1v1h-1zM1239 269h1v1h-1zM220 113h3v1h-3zM271 113h5v1h-5zM358 156h3v1h-3zM487 280h1v1h-1zM905 280h2v1h-2zM1109 280h2v1h-2zM1219 280h2v1h-2zM634 435h1v1h-1zM766 435h1v1h-1zM464 250h1v1h-1zM945 250h2v1h-2zM1065 250h1v1h-1zM1261 250h1v1h-1zM849 325h2v1h-2zM638 438h1v1h-1zM763 438h1v1h-1zM810 370h1v1h-1zM559 379h1v1h-1zM804 379h1v1h-1zM479 270h1v1h-1zM918 270h1v1h-1zM1098 270h1v1h-1zM1237 270h2v1h-2zM570 388h1v1h-1zM798 388h1v1h-1zM524 327h1v1h-1zM845 327h2v1h-2zM423 198h1v1h-1zM1301 198h1v1h-1zM646 444h1v1h-1zM758 444h1v1h-1zM518 319h1v1h-1zM860 319h1v1h-1zM404 178h1v1h-1zM1317 178h1v1h-1zM920 268h2v1h-2zM1095 268h2v1h-2zM1240 268h2v1h-2zM629 431h1v1h-1zM769 431h1v1h-1zM410 184h1v1h-1zM1312 184h1v1h-1zM533 339h1v1h-1zM833 339h1v1h-1zM500 296h1v1h-1zM889 296h1v1h-1zM1127 296h1v1h-1zM1185 296h2v1h-2zM635 436h2v1h-2zM765 436h1v1h-1zM437 214h1v1h-1zM1289 214h1v1h-1zM960 241h2v1h-2zM1048 241h2v1h-2zM499 295h1v1h-1zM1126 295h1v1h-1zM1187 295h2v1h-2zM422 197h1v1h-1zM192 126h1v1h-1zM299 126h2v1h-2zM384 165h4v1h-4zM564 385h2v1h-2zM800 385h1v1h-1zM454 237h1v1h-1zM972 237h5v1h-5zM982 237h5v1h-5zM669 459h2v1h-2zM727 459h3v1h-3zM931 260h1v1h-1zM1081 260h1v1h-1zM1250 260h1v1h-1zM470 258h1v1h-1zM934 258h1v1h-1zM1077 258h2v1h-2zM1252 258h1v1h-1zM185 130h2v1h-2zM305 130h1v1h-1zM443 222h1v1h-1zM1283 222h1v1h-1zM79 148h1v1h-1zM104 148h8v1h-8zM343 148h1v1h-1zM433 209h1v1h-1zM91 152h2v1h-2zM350 152h2v1h-2zM656 452h2v1h-2zM744 452h2v1h-2zM887 298h1v1h-1zM1129 298h1v1h-1zM1180 298h2v1h-2zM940 253h2v1h-2zM1069 253h2v1h-2zM1258 253h1v1h-1zM534 340h1v1h-1zM832 340h1v1h-1zM896 288h1v1h-1zM1118 288h1v1h-1zM1202 288h2v1h-2zM605 415h2v1h-2zM780 415h1v1h-1zM575 391h2v1h-2zM796 391h1v1h-1zM392 167h2v1h-2zM424 199h1v1h-1zM1300 199h1v1h-1zM136 142h3v1h-3zM330 142h3v1h-3zM425 200h1v1h-1zM625 428h1v1h-1zM771 428h1v1h-1zM473 262h1v1h-1zM928 262h2v1h-2zM1084 262h2v1h-2zM1248 262h1v1h-1zM480 271h1v1h-1zM916 271h2v1h-2zM1099 271h1v1h-1zM1235 271h2v1h-2zM1311 185h1v1h-1zM491 285h1v1h-1zM900 285h1v1h-1zM1115 285h1v1h-1zM1209 285h2v1h-2zM493 287h1v1h-1zM897 287h1v1h-1zM1117 287h1v1h-1zM1204 287h2v1h-2zM416 191h1v1h-1zM1306 191h1v1h-1zM126 145h3v1h-3zM337 145h2v1h-2zM589 401h2v1h-2zM895 289h1v1h-1zM1119 289h1v1h-1zM1200 289h2v1h-2zM563 384h1v1h-1zM483 275h1v1h-1zM911 275h2v1h-2zM1104 275h1v1h-1zM1228 275h2v1h-2zM458 242h1v1h-1zM959 242h1v1h-1zM1050 242h2v1h-2zM1268 242h1v1h-1zM806 376h1v1h-1zM398 172h1v1h-1zM1325 172h1v1h-1zM507 305h1v1h-1zM1142 305h6v1h-6zM1157 305h4v1h-4zM445 225h1v1h-1zM508 306h1v1h-1zM1148 306h9v1h-9zM1294 207h1v1h-1zM446 226h1v1h-1zM1280 226h1v1h-1zM537 344h1v1h-1zM484 276h1v1h-1zM910 276h1v1h-1zM1105 276h1v1h-1zM1227 276h1v1h-1zM596 407h1v1h-1zM639 439h2v1h-2zM762 439h1v1h-1zM647 445h1v1h-1zM757 445h1v1h-1zM1282 223h1v1h-1zM515 315h1v1h-1zM867 315h2v1h-2zM427 202h1v1h-1zM1298 202h1v1h-1zM60 114h1v1h-1zM217 114h3v1h-3zM276 114h2v1h-2zM521 323h1v1h-1zM852 323h2v1h-2zM913 274h1v1h-1zM1103 274h1v1h-1zM1230 274h2v1h-2zM399 173h1v1h-1zM1323 173h2v1h-2zM83 155h2v1h-2zM356 155h2v1h-2zM1288 215h1v1h-1zM93 151h3v1h-3zM348 151h2v1h-2zM580 394h2v1h-2zM794 394h1v1h-1zM512 311h1v1h-1zM875 311h1v1h-1zM871 313h2v1h-2zM573 390h2v1h-2zM366 159h2v1h-2zM1276 231h1v1h-1zM96 150h3v1h-3zM346 150h2v1h-2zM879 307h1v1h-1zM948 248h2v1h-2zM1062 248h1v1h-1zM1263 248h1v1h-1zM568 387h2v1h-2zM503 300h1v1h-1zM885 300h1v1h-1zM1132 300h2v1h-2zM1176 300h2v1h-2zM189 128h1v1h-1zM302 128h1v1h-1zM407 181h1v1h-1zM1314 181h1v1h-1zM592 403h1v1h-1zM788 403h1v1h-1zM863 317h2v1h-2zM820 355h1v1h-1zM380 164h4v1h-4zM1125 294h1v1h-1zM1189 294h2v1h-2zM403 177h1v1h-1zM1318 177h1v1h-1zM648 446h2v1h-2zM756 446h1v1h-1zM449 230h1v1h-1zM1277 230h1v1h-1zM1310 186h1v1h-1zM66 125h1v1h-1zM193 125h2v1h-2zM298 125h1v1h-1zM814 364h1v1h-1zM577 392h1v1h-1zM578 393h2v1h-2zM394 168h1v1h-1zM1330 168h1v1h-1zM519 320h1v1h-1zM858 320h2v1h-2zM671 460h2v1h-2zM724 460h3v1h-3zM551 366h1v1h-1zM622 426h2v1h-2zM485 277h1v1h-1zM909 277h1v1h-1zM1106 277h1v1h-1zM1225 277h2v1h-2zM143 140h3v1h-3zM324 140h3v1h-3zM593 404h1v1h-1zM566 386h2v1h-2zM401 175h1v1h-1zM1321 175h1v1h-1zM588 400h1v1h-1zM790 400h1v1h-1zM376 163h4v1h-4zM587 399h1v1h-1zM618 423h1v1h-1zM540 348h1v1h-1zM825 348h1v1h-1zM562 383h1v1h-1zM502 299h1v1h-1zM886 299h1v1h-1zM1130 299h2v1h-2zM1178 299h2v1h-2zM522 324h1v1h-1zM851 324h1v1h-1zM598 409h1v1h-1zM784 409h1v1h-1zM548 361h1v1h-1zM816 361h1v1h-1zM536 343h1v1h-1zM878 308h1v1h-1zM594 405h1v1h-1zM525 328h1v1h-1zM843 328h2v1h-2zM861 318h2v1h-2zM626 429h2v1h-2zM560 380h1v1h-1zM571 389h2v1h-2zM663 456h2v1h-2zM736 456h2v1h-2zM474 263h1v1h-1zM927 263h1v1h-1zM1086 263h2v1h-2zM1247 263h1v1h-1zM409 183h1v1h-1zM476 266h1v1h-1zM923 266h1v1h-1zM1091 266h2v1h-2zM1244 266h1v1h-1zM431 206h1v1h-1zM1295 206h1v1h-1zM412 187h1v1h-1zM1309 187h1v1h-1zM633 434h1v1h-1zM767 434h1v1h-1zM614 421h2v1h-2zM776 421h1v1h-1zM471 259h1v1h-1zM932 259h2v1h-2zM1079 259h2v1h-2zM1251 259h1v1h-1zM406 180h1v1h-1zM1315 180h1v1h-1zM802 382h1v1h-1zM610 418h1v1h-1zM778 418h1v1h-1zM434 210h1v1h-1zM1292 210h1v1h-1zM448 229h1v1h-1zM824 349h1v1h-1zM621 425h1v1h-1zM773 425h1v1h-1zM373 162h3v1h-3zM531 336h1v1h-1zM836 336h1v1h-1zM601 411h1v1h-1zM619 424h2v1h-2zM602 412h1v1h-1zM782 412h1v1h-1zM591 402h1v1h-1zM414 189h1v1h-1zM451 233h1v1h-1zM415 190h1v1h-1zM1307 190h1v1h-1zM597 408h1v1h-1zM608 417h2v1h-2zM586 398h1v1h-1zM641 440h1v1h-1zM603 413h1v1h-1zM604 414h1v1h-1zM556 374h1v1h-1zM182 132h2v1h-2zM308 132h1v1h-1zM51 98h1v1h-1zM371 161h2v1h-2zM442 221h1v1h-1zM452 234h1v1h-1zM1274 234h1v1h-1zM637 437h1v1h-1zM764 437h1v1h-1zM511 310h1v1h-1zM876 310h1v1h-1zM599 410h2v1h-2zM408 182h1v1h-1zM613 420h1v1h-1zM632 433h1v1h-1zM197 123h2v1h-2zM295 123h1v1h-1zM651 448h1v1h-1zM752 448h2v1h-2zM628 430h1v1h-1zM812 367h1v1h-1zM643 442h1v1h-1zM760 442h1v1h-1zM368 160h3v1h-3zM652 449h2v1h-2zM750 449h2v1h-2zM440 218h1v1h-1zM1286 218h1v1h-1zM624 427h1v1h-1zM395 169h1v1h-1zM1329 169h1v1h-1zM830 342h1v1h-1zM611 419h2v1h-2zM842 329h1v1h-1zM413 188h1v1h-1zM530 335h1v1h-1zM837 335h1v1h-1zM947 249h1v1h-1zM1063 249h2v1h-2zM1262 249h1v1h-1zM818 358h1v1h-1zM834 338h1v1h-1zM595 406h1v1h-1zM786 406h1v1h-1zM607 416h1v1h-1zM207 118h2v1h-2zM286 118h2v1h-2zM527 331h1v1h-1zM840 331h1v1h-1zM808 373h1v1h-1zM436 213h1v1h-1zM1291 211h1v1h-1zM543 353h1v1h-1zM421 196h1v1h-1zM630 432h2v1h-2zM510 309h1v1h-1zM877 309h1v1h-1zM439 217h1v1h-1zM55 105h1v1h-1zM841 330h1v1h-1zM554 371h1v1h-1zM828 345h1v1h-1zM430 205h1v1h-1zM46 89h1v1h-1zM642 441h1v1h-1zM417 192h1v1h-1zM418 193h1v1h-1zM835 337h1v1h-1zM827 346h1v1h-1zM822 352h1v1h-1z"/>
<g shape-rendering="crispEdges"><rect x="3" y="187" width="1680" height="2" fill="#26c626"/><rect x="3" y="381" width="1680" height="2" fill="#4169e1"/><rect x="3" y="575" width="1680" height="2" fill="#4169e1"/></g>
</g>
<path d="M1340 30h11l-5.500 5.500z" fill="#778899"/>
<path d="M6 36h7l-3.500 4z" fill="#000"/>
<text x="17.700" y="41.100" font-size="10.100" fill="#000" textLength="57.600" lengthAdjust="spacingAndGlyphs" xml:space="preserve">XAUUSD-,H4</text>
<text x="80.700" y="41.100" font-size="10.100" fill="#000" textLength="141.400" lengthAdjust="spacingAndGlyphs" xml:space="preserve">1885.23 1885.23 1881.26 1883.62</text>
<g shape-rendering="crispEdges" fill="#000">
<rect x="1684" y="62" width="2" height="1"/>
<rect x="1684" y="95" width="2" height="1"/>
<rect x="1684" y="128" width="2" height="1"/>
<rect x="1684" y="161" width="2" height="1"/>
<rect x="1684" y="194" width="2" height="1"/>
<rect x="1684" y="227" width="2" height="1"/>
<rect x="1684" y="260" width="2" height="1"/>
<rect x="1684" y="293" width="2" height="1"/>
<rect x="1684" y="326" width="2" height="1"/>
<rect x="1684" y="359" width="2" height="1"/>
<rect x="1684" y="392" width="2" height="1"/>
<rect x="1684" y="425" width="2" height="1"/>
<rect x="1684" y="458" width="2" height="1"/>
<rect x="1684" y="491" width="2" height="1"/>
<rect x="1684" y="524" width="2" height="1"/>
<rect x="1684" y="557" width="2" height="1"/>
<rect x="1684" y="590" width="2" height="1"/>
</g>
<text x="1689.400" y="65.800" font-size="10.100" fill="#000" textLength="33.200" lengthAdjust="spacingAndGlyphs" xml:space="preserve">1897.55</text>
<text x="1689.400" y="98.800" font-size="10.100" fill="#000" textLength="33.200" lengthAdjust="spacingAndGlyphs" xml:space="preserve">1889.05</text>
<text x="1689.400" y="131.800" font-size="10.100" fill="#000" textLength="33.200" lengthAdjust="spacingAndGlyphs" xml:space="preserve">1880.55</text>
<text x="1689.400" y="164.800" font-size="10.100" fill="#000" textLength="33.200" lengthAdjust="spacingAndGlyphs" xml:space="preserve">1872.05</text>
<text x="1689.400" y="197.800" font-size="10.100" fill="#000" textLength="33.200" lengthAdjust="spacingAndGlyphs" xml:space="preserve">1863.55</text>
<text x="1689.400" y="230.800" font-size="10.100" fill="#000" textLength="33.200" lengthAdjust="spacingAndGlyphs" xml:space="preserve">1855.05</text>
<text x="1689.400" y="263.800" font-size="10.100" fill="#000" textLength="33.200" lengthAdjust="spacingAndGlyphs" xml:space="preserve">1846.55</text>
<text x="1689.400" y="296.800" font-size="10.100" fill="#000" textLength="33.200" lengthAdjust="spacingAndGlyphs" xml:space="preserve">1838.05</text>
<text x="1689.400" y="329.800" font-size="10.100" fill="#000" textLength="33.200" lengthAdjust="spacingAndGlyphs" xml:space="preserve">1829.55</text>
<text x="1689.400" y="362.800" font-size="10.100" fill="#000" textLength="33.200" lengthAdjust="spacingAndGlyphs" xml:space="preserve">1821.05</text>
<text x="1689.400" y="395.800" font-size="10.100" fill="#000" textLength="33.200" lengthAdjust="spacingAndGlyphs" xml:space="preserve">1812.55</text>
<text x="1689.400" y="428.800" font-size="10.100" fill="#000" textLength="33.200" lengthAdjust="spacingAndGlyphs" xml:space="preserve">1804.05</text>
<text x="1689.400" y="461.800" font-size="10.100" fill="#000" textLength="33.200" lengthAdjust="spacingAndGlyphs" xml:space="preserve">1795.55</text>
<text x="1689.400" y="494.800" font-size="10.100" fill="#000" textLength="33.200" lengthAdjust="spacingAndGlyphs" xml:space="preserve">1787.05</text>
<text x="1689.400" y="527.800" font-size="10.100" fill="#000" textLength="33.200" lengthAdjust="spacingAndGlyphs" xml:space="preserve">1778.55</text>
<text x="1689.400" y="560.800" font-size="10.100" fill="#000" textLength="33.200" lengthAdjust="spacingAndGlyphs" xml:space="preserve">1770.05</text>
<text x="1689.400" y="593.800" font-size="10.100" fill="#000" textLength="33.200" lengthAdjust="spacingAndGlyphs" xml:space="preserve">1761.55</text>
<rect x="1685" y="182" width="37" height="11" fill="#32cd32" shape-rendering="crispEdges"/>
<text x="1689.400" y="191.100" font-size="10.100" fill="#fff" textLength="33.200" lengthAdjust="spacingAndGlyphs" xml:space="preserve">1865.00</text>
<rect x="1685" y="376" width="37" height="11" fill="#4169e1" shape-rendering="crispEdges"/>
<text x="1689.400" y="385.100" font-size="10.100" fill="#fff" textLength="33.200" lengthAdjust="spacingAndGlyphs" xml:space="preserve">1815.00</text>
<rect x="1685" y="570" width="37" height="11" fill="#4169e1" shape-rendering="crispEdges"/>
<text x="1689.400" y="579.100" font-size="10.100" fill="#fff" textLength="33.200" lengthAdjust="spacingAndGlyphs" xml:space="preserve">1765.00</text>
<rect x="1685" y="111" width="37" height="11" fill="#000" shape-rendering="crispEdges"/>
<text x="1689.400" y="120.100" font-size="10.100" fill="#fff" textLength="33.200" lengthAdjust="spacingAndGlyphs" xml:space="preserve">1883.62</text>
<g fill="#ed1c24">
<text x="1366.200" y="305.800" font-size="35.500" textLength="167" lengthAdjust="spacingAndGlyphs" style="font-family:'Liberation Sans','Noto Sans CJK SC',sans-serif">多空转折点</text>
<text x="1532.700" y="304.100" font-size="35" textLength="78" lengthAdjust="spacingAndGlyphs" style="font-family:'Liberation Sans','Noto Sans CJK SC',sans-serif">1865</text>
</g>
<g shape-rendering="crispEdges">
<path fill="#c0c0c0" d="M3 661h1V714h-1zM11 661h1V715h-1zM19 661h1V719h-1zM27 661h1V722h-1zM35 661h1V723h-1zM43 661h1V721h-1zM51 661h1V719h-1zM59 661h1V717h-1zM67 661h1V711h-1zM75 661h1V707h-1zM83 661h1V703h-1zM91 661h1V700h-1zM99 661h1V696h-1zM107 661h1V692h-1zM115 661h1V684h-1zM123 661h1V680h-1zM131 661h1V674h-1zM139 661h1V668h-1zM147 661h1V665h-1zM155 661h1V670h-1zM163 661h1V667h-1zM171 661h1V666h-1zM179 661h1V663h-1zM195 660h1V662h-1zM203 660h1V662h-1zM211 659h1V662h-1zM219 660h1V662h-1zM243 661h1V663h-1zM251 661h1V669h-1zM259 661h1V668h-1zM267 661h1V671h-1zM275 661h1V674h-1zM283 661h1V677h-1zM291 661h1V681h-1zM299 661h1V685h-1zM307 661h1V688h-1zM315 661h1V688h-1zM323 661h1V689h-1zM331 661h1V689h-1zM339 661h1V688h-1zM347 661h1V686h-1zM355 661h1V682h-1zM363 661h1V679h-1zM371 661h1V677h-1zM379 661h1V674h-1zM387 661h1V672h-1zM395 661h1V672h-1zM403 661h1V685h-1zM411 661h1V693h-1zM419 661h1V700h-1zM427 661h1V709h-1zM435 661h1V715h-1zM443 661h1V725h-1zM451 661h1V734h-1zM459 661h1V741h-1zM467 661h1V743h-1zM475 661h1V746h-1zM483 661h1V745h-1zM491 661h1V743h-1zM499 661h1V740h-1zM507 661h1V739h-1zM515 661h1V737h-1zM523 661h1V733h-1zM531 661h1V728h-1zM539 661h1V723h-1zM547 661h1V720h-1zM555 661h1V718h-1zM563 661h1V715h-1zM571 661h1V713h-1zM579 661h1V710h-1zM587 661h1V708h-1zM595 661h1V715h-1zM603 661h1V717h-1zM611 661h1V720h-1zM619 661h1V727h-1zM627 661h1V728h-1zM635 661h1V731h-1zM643 661h1V733h-1zM651 661h1V730h-1zM659 661h1V727h-1zM667 661h1V723h-1zM675 661h1V716h-1zM683 661h1V705h-1zM691 661h1V694h-1zM699 661h1V683h-1zM707 661h1V676h-1zM715 661h1V671h-1zM723 661h1V664h-1zM731 656h1V662h-1zM739 649h1V662h-1zM747 642h1V662h-1zM755 637h1V662h-1zM763 631h1V662h-1zM771 624h1V662h-1zM779 620h1V662h-1zM787 620h1V662h-1zM795 618h1V662h-1zM803 617h1V662h-1zM811 616h1V662h-1zM819 616h1V662h-1zM827 616h1V662h-1zM835 621h1V662h-1zM843 623h1V662h-1zM851 625h1V662h-1zM859 627h1V662h-1zM867 628h1V662h-1zM875 633h1V662h-1zM883 624h1V662h-1zM891 619h1V662h-1zM899 614h1V662h-1zM907 609h1V662h-1zM915 607h1V662h-1zM923 607h1V662h-1zM931 607h1V662h-1zM939 605h1V662h-1zM947 605h1V662h-1zM955 609h1V662h-1zM963 612h1V662h-1zM971 618h1V662h-1zM979 625h1V662h-1zM987 637h1V662h-1zM995 646h1V662h-1zM1003 652h1V662h-1zM1011 657h1V662h-1zM1027 661h1V664h-1zM1035 661h1V667h-1zM1043 661h1V669h-1zM1051 661h1V670h-1zM1059 661h1V672h-1zM1067 661h1V673h-1zM1075 661h1V670h-1zM1083 661h1V668h-1zM1091 661h1V669h-1zM1099 661h1V670h-1zM1107 661h1V672h-1zM1115 661h1V675h-1zM1123 661h1V677h-1zM1131 661h1V680h-1zM1139 661h1V681h-1zM1147 661h1V679h-1zM1155 661h1V673h-1zM1163 661h1V668h-1zM1171 661h1V663h-1zM1179 659h1V662h-1zM1187 654h1V662h-1zM1195 649h1V662h-1zM1203 646h1V662h-1zM1211 641h1V662h-1zM1219 640h1V662h-1zM1227 637h1V662h-1zM1235 634h1V662h-1zM1243 632h1V662h-1zM1251 627h1V662h-1zM1259 622h1V662h-1zM1267 613h1V662h-1zM1275 610h1V662h-1zM1283 609h1V662h-1zM1291 609h1V662h-1zM1299 609h1V662h-1zM1307 609h1V662h-1zM1315 609h1V662h-1zM1323 612h1V662h-1zM1331 614h1V662h-1z"/>
</g>
<path fill="#ff0000" shape-rendering="crispEdges" d="M3 701h1v1h-1zM4 702h1v1h-1zM5 702h1v1h-1zM9 704h1v1h-1zM10 704h1v1h-1zM11 704h1v1h-1zM15 706h1v1h-1zM16 707h1v1h-1zM17 707h1v1h-1zM21 709h1v1h-1zM22 710h1v1h-1zM23 710h1v1h-1zM27 711h1v1h-1zM28 712h1v1h-1zM29 712h1v1h-1zM33 714h1v1h-1zM34 715h1v1h-1zM35 716h1v1h-1zM39 716h1v1h-1zM40 716h1v1h-1zM41 716h1v1h-1zM45 717h1v1h-1zM46 717h1v1h-1zM47 717h1v1h-1zM51 718h1v1h-1zM52 718h1v1h-1zM53 718h1v1h-1zM57 718h1v1h-1zM58 718h1v1h-1zM59 718h1v1h-1zM63 718h1v1h-1zM64 718h1v1h-1zM65 718h1v1h-1zM69 718h1v1h-1zM70 718h1v1h-1zM71 717h1v1h-1zM75 717h1v1h-1zM76 717h1v1h-1zM77 717h1v1h-1zM81 716h1v1h-1zM82 716h1v1h-1zM83 716h1v1h-1zM87 715h1v1h-1zM88 714h1v1h-1zM89 714h1v1h-1zM93 713h1v1h-1zM94 712h1v1h-1zM95 712h1v1h-1zM99 710h1v1h-1zM100 710h1v1h-1zM101 710h1v1h-1zM105 708h1v1h-1zM106 707h1v1h-1zM107 707h1v1h-1zM111 705h1v1h-1zM112 704h1v1h-1zM113 704h1v1h-1zM117 702h1v1h-1zM118 701h1v1h-1zM119 701h1v1h-1zM123 699h1v1h-1zM124 698h1v1h-1zM125 698h1v1h-1zM129 695h1v1h-1zM130 695h1v1h-1zM131 694h1v1h-1zM135 692h1v1h-1zM136 691h1v1h-1zM137 690h1v1h-1zM141 688h1v1h-1zM142 687h1v1h-1zM143 687h1v1h-1zM147 684h1v1h-1zM148 684h1v1h-1zM149 683h1v1h-1zM153 681h1v1h-1zM154 680h1v1h-1zM155 680h1v1h-1zM159 678h1v1h-1zM160 677h1v1h-1zM161 677h1v1h-1zM165 675h1v1h-1zM166 674h1v1h-1zM167 674h1v1h-1zM171 672h1v1h-1zM172 672h1v1h-1zM173 672h1v1h-1zM177 670h1v1h-1zM178 670h1v1h-1zM179 669h1v1h-1zM183 668h1v1h-1zM184 668h1v1h-1zM185 668h1v1h-1zM189 667h1v1h-1zM190 666h1v1h-1zM191 666h1v1h-1zM195 665h1v1h-1zM196 665h1v1h-1zM197 665h1v1h-1zM201 664h1v1h-1zM202 664h1v1h-1zM203 664h1v1h-1zM207 663h1v1h-1zM208 663h1v1h-1zM209 663h1v1h-1zM213 662h1v1h-1zM214 662h1v1h-1zM215 662h1v1h-1zM219 662h1v1h-1zM220 662h1v1h-1zM221 662h1v1h-1zM225 662h1v1h-1zM226 662h1v1h-1zM227 662h1v1h-1zM231 662h1v1h-1zM232 661h1v1h-1zM233 661h1v1h-1zM237 661h1v1h-1zM238 661h1v1h-1zM239 661h1v1h-1zM243 661h1v1h-1zM244 661h1v1h-1zM245 661h1v1h-1zM249 661h1v1h-1zM250 661h1v1h-1zM251 662h1v1h-1zM255 662h1v1h-1zM256 662h1v1h-1zM257 662h1v1h-1zM261 663h1v1h-1zM262 663h1v1h-1zM263 663h1v1h-1zM267 664h1v1h-1zM268 664h1v1h-1zM269 664h1v1h-1zM273 665h1v1h-1zM274 665h1v1h-1zM275 665h1v1h-1zM279 666h1v1h-1zM280 666h1v1h-1zM281 666h1v1h-1zM285 667h1v1h-1zM286 668h1v1h-1zM287 668h1v1h-1zM291 669h1v1h-1zM292 669h1v1h-1zM293 670h1v1h-1zM297 672h1v1h-1zM298 673h1v1h-1zM299 673h1v1h-1zM303 674h1v1h-1zM304 674h1v1h-1zM305 675h1v1h-1zM309 676h1v1h-1zM310 676h1v1h-1zM311 676h1v1h-1zM315 677h1v1h-1zM316 677h1v1h-1zM317 678h1v1h-1zM321 679h1v1h-1zM322 679h1v1h-1zM323 679h1v1h-1zM327 681h1v1h-1zM328 681h1v1h-1zM329 681h1v1h-1zM333 682h1v1h-1zM334 683h1v1h-1zM335 683h1v1h-1zM339 684h1v1h-1zM340 684h1v1h-1zM341 684h1v1h-1zM345 685h1v1h-1zM346 685h1v1h-1zM347 686h1v1h-1zM351 686h1v1h-1zM352 686h1v1h-1zM353 686h1v1h-1zM357 686h1v1h-1zM358 686h1v1h-1zM359 686h1v1h-1zM363 686h1v1h-1zM364 685h1v1h-1zM365 685h1v1h-1zM369 685h1v1h-1zM370 685h1v1h-1zM371 685h1v1h-1zM375 684h1v1h-1zM376 684h1v1h-1zM377 684h1v1h-1zM381 683h1v1h-1zM382 683h1v1h-1zM383 683h1v1h-1zM387 682h1v1h-1zM388 682h1v1h-1zM389 681h1v1h-1zM393 680h1v1h-1zM394 680h1v1h-1zM395 680h1v1h-1zM399 680h1v1h-1zM400 680h1v1h-1zM401 680h1v1h-1zM405 680h1v1h-1zM406 680h1v1h-1zM407 680h1v1h-1zM411 680h1v1h-1zM412 681h1v1h-1zM413 681h1v1h-1zM417 682h1v1h-1zM418 682h1v1h-1zM419 683h1v1h-1zM423 684h1v1h-1zM424 684h1v1h-1zM425 685h1v1h-1zM429 686h1v1h-1zM430 686h1v1h-1zM431 687h1v1h-1zM435 689h1v1h-1zM436 690h1v1h-1zM437 690h1v1h-1zM441 692h1v1h-1zM442 693h1v1h-1zM443 693h1v1h-1zM447 697h1v1h-1zM448 698h1v1h-1zM449 699h1v1h-1zM453 703h1v1h-1zM454 704h1v1h-1zM455 705h1v1h-1zM459 708h1v1h-1zM460 709h1v1h-1zM461 710h1v1h-1zM465 714h1v1h-1zM466 715h1v1h-1zM467 716h1v1h-1zM471 719h1v1h-1zM472 720h1v1h-1zM473 721h1v1h-1zM477 725h1v1h-1zM478 726h1v1h-1zM479 726h1v1h-1zM483 729h1v1h-1zM484 730h1v1h-1zM485 730h1v1h-1zM489 732h1v1h-1zM490 733h1v1h-1zM491 733h1v1h-1zM495 735h1v1h-1zM496 736h1v1h-1zM497 736h1v1h-1zM501 738h1v1h-1zM502 739h1v1h-1zM503 739h1v1h-1zM507 740h1v1h-1zM508 740h1v1h-1zM509 740h1v1h-1zM513 741h1v1h-1zM514 741h1v1h-1zM515 741h1v1h-1zM519 741h1v1h-1zM520 741h1v1h-1zM521 741h1v1h-1zM525 740h1v1h-1zM526 740h1v1h-1zM527 740h1v1h-1zM531 739h1v1h-1zM532 738h1v1h-1zM533 738h1v1h-1zM537 737h1v1h-1zM538 737h1v1h-1zM539 736h1v1h-1zM543 735h1v1h-1zM544 735h1v1h-1zM545 735h1v1h-1zM549 734h1v1h-1zM550 733h1v1h-1zM551 733h1v1h-1zM555 731h1v1h-1zM556 731h1v1h-1zM557 730h1v1h-1zM561 728h1v1h-1zM562 728h1v1h-1zM563 727h1v1h-1zM567 726h1v1h-1zM568 726h1v1h-1zM569 725h1v1h-1zM573 724h1v1h-1zM574 724h1v1h-1zM575 723h1v1h-1zM579 722h1v1h-1zM580 721h1v1h-1zM581 721h1v1h-1zM585 719h1v1h-1zM586 719h1v1h-1zM587 719h1v1h-1zM591 718h1v1h-1zM592 718h1v1h-1zM593 717h1v1h-1zM597 716h1v1h-1zM598 716h1v1h-1zM599 716h1v1h-1zM603 715h1v1h-1zM604 715h1v1h-1zM605 715h1v1h-1zM609 715h1v1h-1zM610 715h1v1h-1zM611 715h1v1h-1zM615 716h1v1h-1zM616 716h1v1h-1zM617 716h1v1h-1zM621 716h1v1h-1zM622 716h1v1h-1zM623 716h1v1h-1zM627 717h1v1h-1zM628 717h1v1h-1zM629 717h1v1h-1zM633 719h1v1h-1zM634 719h1v1h-1zM635 719h1v1h-1zM639 720h1v1h-1zM640 720h1v1h-1zM641 720h1v1h-1zM645 721h1v1h-1zM646 721h1v1h-1zM647 722h1v1h-1zM651 723h1v1h-1zM652 724h1v1h-1zM653 724h1v1h-1zM657 725h1v1h-1zM658 726h1v1h-1zM659 726h1v1h-1zM663 726h1v1h-1zM664 727h1v1h-1zM665 727h1v1h-1zM669 727h1v1h-1zM670 726h1v1h-1zM671 726h1v1h-1zM675 726h1v1h-1zM676 726h1v1h-1zM677 726h1v1h-1zM681 725h1v1h-1zM682 725h1v1h-1zM683 725h1v1h-1zM687 723h1v1h-1zM688 722h1v1h-1zM689 722h1v1h-1zM693 719h1v1h-1zM694 719h1v1h-1zM695 718h1v1h-1zM699 715h1v1h-1zM700 714h1v1h-1zM701 714h1v1h-1zM705 711h1v1h-1zM706 711h1v1h-1zM707 710h1v1h-1zM711 707h1v1h-1zM712 706h1v1h-1zM713 706h1v1h-1zM717 702h1v1h-1zM718 701h1v1h-1zM719 700h1v1h-1zM723 696h1v1h-1zM724 695h1v1h-1zM725 694h1v1h-1zM729 690h1v1h-1zM730 689h1v1h-1zM731 688h1v1h-1zM735 683h1v1h-1zM736 682h1v1h-1zM737 681h1v1h-1zM741 677h1v1h-1zM742 676h1v1h-1zM743 675h1v1h-1zM747 670h1v1h-1zM748 669h1v1h-1zM749 668h1v1h-1zM753 665h1v1h-1zM754 664h1v1h-1zM755 663h1v1h-1zM759 659h1v1h-1zM760 659h1v1h-1zM761 658h1v1h-1zM765 654h1v1h-1zM766 653h1v1h-1zM767 652h1v1h-1zM771 649h1v1h-1zM772 648h1v1h-1zM773 647h1v1h-1zM777 644h1v1h-1zM778 644h1v1h-1zM779 643h1v1h-1zM783 639h1v1h-1zM784 639h1v1h-1zM785 638h1v1h-1zM789 635h1v1h-1zM790 634h1v1h-1zM791 633h1v1h-1zM795 630h1v1h-1zM796 630h1v1h-1zM797 630h1v1h-1zM801 628h1v1h-1zM802 627h1v1h-1zM803 627h1v1h-1zM807 625h1v1h-1zM808 625h1v1h-1zM809 624h1v1h-1zM813 623h1v1h-1zM814 622h1v1h-1zM815 622h1v1h-1zM819 621h1v1h-1zM820 620h1v1h-1zM821 620h1v1h-1zM825 619h1v1h-1zM826 619h1v1h-1zM827 619h1v1h-1zM831 619h1v1h-1zM832 618h1v1h-1zM833 618h1v1h-1zM837 618h1v1h-1zM838 618h1v1h-1zM839 618h1v1h-1zM843 618h1v1h-1zM844 618h1v1h-1zM845 618h1v1h-1zM849 618h1v1h-1zM850 618h1v1h-1zM851 618h1v1h-1zM855 619h1v1h-1zM856 619h1v1h-1zM857 619h1v1h-1zM861 620h1v1h-1zM862 620h1v1h-1zM863 620h1v1h-1zM867 620h1v1h-1zM868 620h1v1h-1zM869 620h1v1h-1zM873 621h1v1h-1zM874 621h1v1h-1zM875 622h1v1h-1zM879 622h1v1h-1zM880 622h1v1h-1zM881 622h1v1h-1zM885 623h1v1h-1zM886 623h1v1h-1zM887 623h1v1h-1zM891 623h1v1h-1zM892 623h1v1h-1zM893 623h1v1h-1zM897 623h1v1h-1zM898 623h1v1h-1zM899 623h1v1h-1zM903 622h1v1h-1zM904 622h1v1h-1zM905 622h1v1h-1zM909 621h1v1h-1zM910 621h1v1h-1zM911 621h1v1h-1zM915 620h1v1h-1zM916 620h1v1h-1zM917 619h1v1h-1zM921 618h1v1h-1zM922 618h1v1h-1zM923 618h1v1h-1zM927 617h1v1h-1zM928 617h1v1h-1zM929 617h1v1h-1zM933 615h1v1h-1zM934 615h1v1h-1zM935 614h1v1h-1zM939 613h1v1h-1zM940 612h1v1h-1zM941 612h1v1h-1zM945 610h1v1h-1zM946 610h1v1h-1zM947 609h1v1h-1zM951 609h1v1h-1zM952 609h1v1h-1zM953 609h1v1h-1zM957 608h1v1h-1zM958 608h1v1h-1zM959 608h1v1h-1zM963 607h1v1h-1zM964 607h1v1h-1zM965 607h1v1h-1zM969 608h1v1h-1zM970 608h1v1h-1zM971 608h1v1h-1zM975 609h1v1h-1zM976 609h1v1h-1zM977 609h1v1h-1zM981 610h1v1h-1zM982 611h1v1h-1zM983 611h1v1h-1zM987 613h1v1h-1zM988 613h1v1h-1zM989 614h1v1h-1zM993 616h1v1h-1zM994 616h1v1h-1zM995 617h1v1h-1zM999 619h1v1h-1zM1000 620h1v1h-1zM1001 620h1v1h-1zM1005 623h1v1h-1zM1006 624h1v1h-1zM1007 625h1v1h-1zM1011 628h1v1h-1zM1012 628h1v1h-1zM1013 629h1v1h-1zM1017 632h1v1h-1zM1018 633h1v1h-1zM1019 634h1v1h-1zM1023 637h1v1h-1zM1024 638h1v1h-1zM1025 639h1v1h-1zM1029 642h1v1h-1zM1030 643h1v1h-1zM1031 644h1v1h-1zM1035 647h1v1h-1zM1036 647h1v1h-1zM1037 648h1v1h-1zM1041 651h1v1h-1zM1042 651h1v1h-1zM1043 652h1v1h-1zM1047 655h1v1h-1zM1048 655h1v1h-1zM1049 656h1v1h-1zM1053 658h1v1h-1zM1054 659h1v1h-1zM1055 659h1v1h-1zM1059 661h1v1h-1zM1060 662h1v1h-1zM1061 662h1v1h-1zM1065 663h1v1h-1zM1066 664h1v1h-1zM1067 664h1v1h-1zM1071 665h1v1h-1zM1072 666h1v1h-1zM1073 666h1v1h-1zM1077 667h1v1h-1zM1078 667h1v1h-1zM1079 667h1v1h-1zM1083 668h1v1h-1zM1084 668h1v1h-1zM1085 668h1v1h-1zM1089 669h1v1h-1zM1090 669h1v1h-1zM1091 669h1v1h-1zM1095 669h1v1h-1zM1096 670h1v1h-1zM1097 670h1v1h-1zM1101 670h1v1h-1zM1102 670h1v1h-1zM1103 670h1v1h-1zM1107 671h1v1h-1zM1108 671h1v1h-1zM1109 671h1v1h-1zM1113 671h1v1h-1zM1114 671h1v1h-1zM1115 671h1v1h-1zM1119 672h1v1h-1zM1120 672h1v1h-1zM1121 672h1v1h-1zM1125 673h1v1h-1zM1126 673h1v1h-1zM1127 673h1v1h-1zM1131 674h1v1h-1zM1132 674h1v1h-1zM1133 674h1v1h-1zM1137 674h1v1h-1zM1138 674h1v1h-1zM1139 674h1v1h-1zM1143 675h1v1h-1zM1144 675h1v1h-1zM1145 675h1v1h-1zM1149 675h1v1h-1zM1150 675h1v1h-1zM1151 675h1v1h-1zM1155 675h1v1h-1zM1156 675h1v1h-1zM1157 675h1v1h-1zM1161 675h1v1h-1zM1162 675h1v1h-1zM1163 675h1v1h-1zM1167 674h1v1h-1zM1168 674h1v1h-1zM1169 674h1v1h-1zM1173 674h1v1h-1zM1174 674h1v1h-1zM1175 673h1v1h-1zM1179 673h1v1h-1zM1180 673h1v1h-1zM1181 672h1v1h-1zM1185 671h1v1h-1zM1186 670h1v1h-1zM1187 670h1v1h-1zM1191 668h1v1h-1zM1192 667h1v1h-1zM1193 667h1v1h-1zM1197 665h1v1h-1zM1198 665h1v1h-1zM1199 664h1v1h-1zM1203 663h1v1h-1zM1204 662h1v1h-1zM1205 662h1v1h-1zM1209 660h1v1h-1zM1210 659h1v1h-1zM1211 659h1v1h-1zM1215 656h1v1h-1zM1216 656h1v1h-1zM1217 655h1v1h-1zM1221 653h1v1h-1zM1222 652h1v1h-1zM1223 652h1v1h-1zM1227 650h1v1h-1zM1228 649h1v1h-1zM1229 649h1v1h-1zM1233 647h1v1h-1zM1234 647h1v1h-1zM1235 646h1v1h-1zM1239 644h1v1h-1zM1240 644h1v1h-1zM1241 643h1v1h-1zM1245 641h1v1h-1zM1246 641h1v1h-1zM1247 640h1v1h-1zM1251 638h1v1h-1zM1252 638h1v1h-1zM1253 638h1v1h-1zM1257 636h1v1h-1zM1258 635h1v1h-1zM1259 635h1v1h-1zM1263 633h1v1h-1zM1264 632h1v1h-1zM1265 631h1v1h-1zM1269 630h1v1h-1zM1270 629h1v1h-1zM1271 629h1v1h-1zM1275 627h1v1h-1zM1276 627h1v1h-1zM1277 626h1v1h-1zM1281 625h1v1h-1zM1282 625h1v1h-1zM1283 624h1v1h-1zM1287 622h1v1h-1zM1288 622h1v1h-1zM1289 621h1v1h-1zM1293 619h1v1h-1zM1294 619h1v1h-1zM1295 619h1v1h-1zM1299 617h1v1h-1zM1300 617h1v1h-1zM1301 616h1v1h-1zM1305 615h1v1h-1zM1306 614h1v1h-1zM1307 614h1v1h-1zM1311 613h1v1h-1zM1312 613h1v1h-1zM1313 612h1v1h-1zM1317 611h1v1h-1zM1318 611h1v1h-1zM1319 611h1v1h-1zM1323 610h1v1h-1zM1324 610h1v1h-1zM1325 610h1v1h-1zM1329 609h1v1h-1zM1330 609h1v1h-1zM1331 609h1v1h-1z"/>
<text x="7.500" y="608.300" font-size="10.100" fill="#000" textLength="65.800" lengthAdjust="spacingAndGlyphs" xml:space="preserve">MACD(12,26,9)</text>
<text x="76.200" y="608.300" font-size="10.100" fill="#000" textLength="58.800" lengthAdjust="spacingAndGlyphs" xml:space="preserve">10.277 10.998</text>
<text x="1687.700" y="606.400" font-size="10.100" fill="#000" textLength="27.200" lengthAdjust="spacingAndGlyphs" xml:space="preserve">13.765</text>
<text x="1687.700" y="665.400" font-size="10.100" fill="#000" textLength="17.300" lengthAdjust="spacingAndGlyphs" xml:space="preserve">0.00</text>
<text x="1687.700" y="751.400" font-size="10.100" fill="#000" textLength="25.200" lengthAdjust="spacingAndGlyphs" xml:space="preserve">-19.82</text>
<g shape-rendering="crispEdges" fill="#000"><rect x="1684" y="597" width="2" height="1"/><rect x="1684" y="661" width="2" height="1"/><rect x="1684" y="753" width="2" height="1"/></g>
<g shape-rendering="crispEdges" stroke="#c0c0c0" stroke-width="1" stroke-dasharray="3 3"><path d="M3 792.500H1683M3 837.500H1683"/></g>
<path fill="#1e90ff" shape-rendering="crispEdges" d="M154 822h1v2h-1zM877 806h1v3h-1zM785 799h1v2h-1zM108 817h1v2h-1zM876 809h1v2h-1zM1271 786h1v2h-1zM400 833h1v3h-1zM1149 815h1v2h-1zM156 823h1v2h-1zM883 792h1v2h-1zM833 805h1v2h-1zM1319 796h1v2h-1zM399 831h1v2h-1zM391 817h1v2h-1zM159 818h1v2h-1zM676 819h1v2h-1zM155 824h1v2h-1zM682 811h1v2h-1zM1153 810h1v2h-1zM880 799h1v2h-1zM781 793h1v2h-1zM879 801h1v3h-1zM829 800h1v2h-1zM149 812h1v2h-1zM395 822h1v2h-1zM114 809h1v2h-1zM780 791h1v2h-1zM980 815h1v2h-1zM402 838h1v2h-1zM783 796h1v2h-1zM1070 819h1v2h-1zM148 810h1v2h-1zM397 826h1v2h-1zM591 840h1v2h-1zM594 845h1v2h-1zM401 836h1v2h-1zM593 843h1v2h-1zM255 820h1v2h-1zM623 841h1v2h-1zM679 815h1v2h-1zM150 814h1v2h-1zM153 820h1v2h-1zM396 824h1v2h-1zM111 813h1v2h-1zM878 804h1v2h-1zM151 816h1v2h-1zM881 796h1v3h-1zM983 819h1v2h-1zM1074 812h1v2h-1zM1073 814h1v2h-1zM403 840h1v2h-1zM1069 821h1v2h-1zM875 811h1v2h-1zM882 794h1v2h-1zM162 813h1v2h-1zM986 823h1v2h-1zM620 845h1v2h-1zM351 818h1v2h-1zM1072 816h1v2h-1zM161 815h1v2h-1zM1068 823h1v2h-1zM157 821h1v2h-1zM589 837h1v2h-1zM152 818h1v2h-1zM951 799h1v2h-1zM398 828h1v3h-1zM786 801h1v2h-1zM588 835h1v2h-1zM626 837h1v2h-1zM123 813h1v1h-1zM165 813h4v1h-4zM173 813h4v1h-4zM189 813h4v1h-4zM199 813h16v1h-16zM385 813h3v1h-3zM681 813h1v1h-1zM975 813h3v1h-3zM1077 813h2v1h-2zM1151 813h1v1h-1zM63 823h1v1h-1zM249 823h1v1h-1zM253 823h1v1h-1zM273 823h4v1h-4zM335 823h13v1h-13zM671 823h2v1h-2zM997 823h2v1h-2zM1017 823h20v1h-20zM1055 823h3v1h-3zM1106 823h2v1h-2zM1142 823h1v1h-1zM485 837h2v1h-2zM501 837h4v1h-4zM509 837h4v1h-4zM628 837h2v1h-2zM644 837h1v1h-1zM67 820h4v1h-4zM93 820h4v1h-4zM158 820h1v1h-1zM232 820h2v1h-2zM236 820h2v1h-2zM246 820h1v1h-1zM265 820h2v1h-2zM350 820h1v1h-1zM393 820h1v1h-1zM1097 820h4v1h-4zM1145 820h1v1h-1zM109 816h1v1h-1zM223 816h3v1h-3zM259 816h1v1h-1zM353 816h1v1h-1zM367 816h8v1h-8zM390 816h1v1h-1zM1081 816h2v1h-2zM729 800h2v1h-2zM791 800h1v1h-1zM1178 800h10v1h-10zM1202 800h2v1h-2zM1218 800h1v1h-1zM1221 800h2v1h-2zM1322 800h1v1h-1zM1325 800h2v1h-2zM15 830h1v1h-1zM36 830h2v1h-2zM303 830h5v1h-5zM527 830h3v1h-3zM541 830h2v1h-2zM661 830h2v1h-2zM1127 830h5v1h-5zM61 824h2v1h-2zM250 824h1v1h-1zM252 824h1v1h-1zM277 824h4v1h-4zM329 824h6v1h-6zM670 824h1v1h-1zM991 824h6v1h-6zM1058 824h5v1h-5zM1108 824h2v1h-2zM1141 824h1v1h-1zM770 790h10v1h-10zM1250 790h1v1h-1zM1274 790h1v1h-1zM115 808h1v1h-1zM133 808h2v1h-2zM143 808h3v1h-3zM686 808h2v1h-2zM706 808h11v1h-11zM835 808h2v1h-2zM871 808h1v1h-1zM967 808h1v1h-1zM1155 808h2v1h-2zM426 843h3v1h-3zM437 843h2v1h-2zM467 843h2v1h-2zM477 843h1v1h-1zM599 843h2v1h-2zM613 843h2v1h-2zM622 843h1v1h-1zM110 815h1v1h-1zM221 815h2v1h-2zM354 815h1v1h-1zM359 815h8v1h-8zM375 815h6v1h-6zM389 815h1v1h-1zM1080 815h1v1h-1zM518 834h2v1h-2zM586 834h2v1h-2zM647 834h2v1h-2zM60 825h1v1h-1zM251 825h1v1h-1zM281 825h4v1h-4zM315 825h4v1h-4zM325 825h4v1h-4zM668 825h2v1h-2zM987 825h4v1h-4zM1063 825h5v1h-5zM1110 825h1v1h-1zM1140 825h1v1h-1zM118 810h1v1h-1zM128 810h2v1h-2zM683 810h1v1h-1zM873 810h1v1h-1zM969 810h2v1h-2zM731 799h4v1h-4zM792 799h1v1h-1zM818 799h5v1h-5zM828 799h1v1h-1zM922 799h3v1h-3zM1188 799h2v1h-2zM1200 799h2v1h-2zM1204 799h1v1h-1zM1217 799h1v1h-1zM1223 799h3v1h-3zM1321 799h1v1h-1zM1327 799h3v1h-3zM727 802h1v1h-1zM788 802h1v1h-1zM830 802h1v1h-1zM953 802h1v1h-1zM1173 802h2v1h-2zM424 842h2v1h-2zM429 842h4v1h-4zM436 842h1v1h-1zM478 842h1v1h-1zM592 842h1v1h-1zM601 842h1v1h-1zM612 842h1v1h-1zM751 796h6v1h-6zM809 796h4v1h-4zM890 796h3v1h-3zM914 796h3v1h-3zM933 796h4v1h-4zM948 796h1v1h-1zM1194 796h2v1h-2zM1208 796h1v1h-1zM1213 796h1v1h-1zM1233 796h11v1h-11zM757 795h2v1h-2zM782 795h1v1h-1zM888 795h2v1h-2zM893 795h4v1h-4zM912 795h2v1h-2zM937 795h11v1h-11zM1209 795h2v1h-2zM1212 795h1v1h-1zM1244 795h1v1h-1zM1298 795h3v1h-3zM1318 795h1v1h-1zM57 826h3v1h-3zM285 826h2v1h-2zM313 826h2v1h-2zM319 826h6v1h-6zM667 826h1v1h-1zM1111 826h2v1h-2zM1138 826h2v1h-2zM410 838h5v1h-5zM483 838h2v1h-2zM505 838h4v1h-4zM630 838h2v1h-2zM641 838h3v1h-3zM112 812h1v1h-1zM121 812h2v1h-2zM124 812h2v1h-2zM163 812h2v1h-2zM177 812h12v1h-12zM973 812h2v1h-2zM1076 812h1v1h-1zM1152 812h1v1h-1zM160 817h1v1h-1zM226 817h2v1h-2zM242 817h2v1h-2zM258 817h1v1h-1zM260 817h2v1h-2zM352 817h1v1h-1zM678 817h1v1h-1zM981 817h1v1h-1zM1083 817h4v1h-4zM1148 817h1v1h-1zM743 797h8v1h-8zM795 797h4v1h-4zM805 797h4v1h-4zM813 797h2v1h-2zM917 797h2v1h-2zM929 797h4v1h-4zM949 797h1v1h-1zM1192 797h2v1h-2zM1196 797h2v1h-2zM1207 797h1v1h-1zM1214 797h1v1h-1zM1229 797h4v1h-4zM116 809h2v1h-2zM130 809h3v1h-3zM146 809h2v1h-2zM684 809h2v1h-2zM872 809h1v1h-1zM968 809h1v1h-1zM1154 809h1v1h-1zM735 798h8v1h-8zM784 798h1v1h-1zM793 798h2v1h-2zM799 798h6v1h-6zM815 798h3v1h-3zM823 798h5v1h-5zM919 798h3v1h-3zM925 798h4v1h-4zM950 798h1v1h-1zM1190 798h2v1h-2zM1198 798h2v1h-2zM1205 798h2v1h-2zM1215 798h2v1h-2zM1226 798h3v1h-3zM1320 798h1v1h-1zM1330 798h2v1h-2zM487 836h3v1h-3zM495 836h6v1h-6zM513 836h3v1h-3zM627 836h1v1h-1zM645 836h1v1h-1zM113 811h1v1h-1zM119 811h2v1h-2zM126 811h2v1h-2zM874 811h1v1h-1zM971 811h2v1h-2zM1075 811h1v1h-1zM17 832h2v1h-2zM23 832h8v1h-8zM522 832h3v1h-3zM546 832h5v1h-5zM559 832h16v1h-16zM581 832h2v1h-2zM650 832h1v1h-1zM655 832h5v1h-5zM135 807h3v1h-3zM141 807h2v1h-2zM688 807h2v1h-2zM703 807h3v1h-3zM717 807h2v1h-2zM834 807h1v1h-1zM837 807h2v1h-2zM870 807h1v1h-1zM965 807h2v1h-2zM1157 807h4v1h-4zM767 791h3v1h-3zM1249 791h1v1h-1zM1275 791h12v1h-12zM725 803h2v1h-2zM787 803h1v1h-1zM831 803h1v1h-1zM954 803h1v1h-1zM1170 803h3v1h-3zM407 839h3v1h-3zM415 839h5v1h-5zM482 839h1v1h-1zM590 839h1v1h-1zM625 839h1v1h-1zM632 839h2v1h-2zM637 839h4v1h-4zM695 805h6v1h-6zM722 805h2v1h-2zM842 805h5v1h-5zM853 805h4v1h-4zM868 805h1v1h-1zM959 805h5v1h-5zM1165 805h2v1h-2zM65 821h2v1h-2zM71 821h8v1h-8zM87 821h6v1h-6zM234 821h2v1h-2zM247 821h1v1h-1zM267 821h2v1h-2zM349 821h1v1h-1zM394 821h1v1h-1zM675 821h1v1h-1zM984 821h1v1h-1zM1002 821h11v1h-11zM1041 821h12v1h-12zM1101 821h2v1h-2zM1144 821h1v1h-1zM16 831h1v1h-1zM31 831h5v1h-5zM525 831h2v1h-2zM543 831h3v1h-3zM575 831h6v1h-6zM651 831h4v1h-4zM660 831h1v1h-1zM169 814h4v1h-4zM193 814h6v1h-6zM215 814h6v1h-6zM355 814h4v1h-4zM381 814h4v1h-4zM388 814h1v1h-1zM680 814h1v1h-1zM978 814h2v1h-2zM1079 814h1v1h-1zM1150 814h1v1h-1zM1264 783h2v1h-2zM1268 783h1v1h-1zM3 827h9v1h-9zM42 827h5v1h-5zM53 827h4v1h-4zM287 827h3v1h-3zM311 827h2v1h-2zM665 827h2v1h-2zM1113 827h2v1h-2zM1136 827h2v1h-2zM759 794h3v1h-3zM886 794h2v1h-2zM897 794h4v1h-4zM910 794h2v1h-2zM1211 794h1v1h-1zM1245 794h1v1h-1zM1295 794h3v1h-3zM1301 794h4v1h-4zM1317 794h1v1h-1zM138 806h3v1h-3zM690 806h5v1h-5zM701 806h2v1h-2zM719 806h3v1h-3zM839 806h3v1h-3zM847 806h6v1h-6zM869 806h1v1h-1zM964 806h1v1h-1zM1161 806h4v1h-4zM765 792h2v1h-2zM905 792h3v1h-3zM1247 792h2v1h-2zM1287 792h6v1h-6zM1311 792h5v1h-5zM64 822h1v1h-1zM79 822h8v1h-8zM248 822h1v1h-1zM254 822h1v1h-1zM269 822h4v1h-4zM348 822h1v1h-1zM673 822h2v1h-2zM985 822h1v1h-1zM999 822h3v1h-3zM1013 822h4v1h-4zM1037 822h4v1h-4zM1053 822h2v1h-2zM1103 822h3v1h-3zM1143 822h1v1h-1zM439 844h1v1h-1zM465 844h2v1h-2zM469 844h4v1h-4zM476 844h1v1h-1zM598 844h1v1h-1zM615 844h1v1h-1zM621 844h1v1h-1zM440 845h1v1h-1zM463 845h2v1h-2zM473 845h3v1h-3zM597 845h1v1h-1zM616 845h1v1h-1zM404 841h1v1h-1zM422 841h2v1h-2zM433 841h3v1h-3zM479 841h2v1h-2zM602 841h1v1h-1zM607 841h5v1h-5zM724 804h1v1h-1zM832 804h1v1h-1zM857 804h11v1h-11zM955 804h4v1h-4zM1167 804h3v1h-3zM19 833h4v1h-4zM520 833h2v1h-2zM551 833h8v1h-8zM583 833h3v1h-3zM649 833h1v1h-1zM728 801h1v1h-1zM789 801h2v1h-2zM952 801h1v1h-1zM1175 801h3v1h-3zM1219 801h2v1h-2zM1323 801h2v1h-2zM1255 787h3v1h-3zM447 848h13v1h-13zM490 835h5v1h-5zM516 835h2v1h-2zM646 835h1v1h-1zM1258 786h2v1h-2zM13 829h2v1h-2zM38 829h2v1h-2zM295 829h8v1h-8zM308 829h2v1h-2zM530 829h11v1h-11zM663 829h1v1h-1zM1119 829h8v1h-8zM1132 829h2v1h-2zM405 840h2v1h-2zM420 840h2v1h-2zM481 840h1v1h-1zM603 840h4v1h-4zM624 840h1v1h-1zM634 840h3v1h-3zM97 819h11v1h-11zM230 819h2v1h-2zM238 819h2v1h-2zM245 819h1v1h-1zM256 819h1v1h-1zM263 819h2v1h-2zM392 819h1v1h-1zM1093 819h4v1h-4zM1146 819h1v1h-1zM12 828h1v1h-1zM40 828h2v1h-2zM47 828h6v1h-6zM290 828h5v1h-5zM310 828h1v1h-1zM664 828h1v1h-1zM1115 828h4v1h-4zM1134 828h2v1h-2zM228 818h2v1h-2zM240 818h2v1h-2zM244 818h1v1h-1zM257 818h1v1h-1zM262 818h1v1h-1zM677 818h1v1h-1zM982 818h1v1h-1zM1071 818h1v1h-1zM1087 818h6v1h-6zM1147 818h1v1h-1zM762 793h3v1h-3zM884 793h2v1h-2zM901 793h4v1h-4zM908 793h2v1h-2zM1246 793h1v1h-1zM1293 793h2v1h-2zM1305 793h6v1h-6zM1316 793h1v1h-1zM441 846h2v1h-2zM462 846h1v1h-1zM596 846h1v1h-1zM617 846h2v1h-2zM443 847h4v1h-4zM460 847h2v1h-2zM595 847h1v1h-1zM619 847h1v1h-1zM1266 782h2v1h-2zM1253 788h2v1h-2zM1272 788h1v1h-1zM1251 789h2v1h-2zM1273 789h1v1h-1zM1260 785h2v1h-2zM1270 785h1v1h-1zM1262 784h2v1h-2zM1269 784h1v1h-1z"/>
<text x="7.400" y="768.800" font-size="10.100" fill="#000" textLength="67.300" lengthAdjust="spacingAndGlyphs" xml:space="preserve">RSI(14) 64.7751</text>
<text x="1687.700" y="767.400" font-size="10.100" fill="#000" textLength="14.800" lengthAdjust="spacingAndGlyphs" xml:space="preserve">100</text>
<text x="1687.700" y="796.400" font-size="10.100" fill="#000" textLength="9.900" lengthAdjust="spacingAndGlyphs" xml:space="preserve">70</text>
<text x="1687.700" y="841.400" font-size="10.100" fill="#000" textLength="9.900" lengthAdjust="spacingAndGlyphs" xml:space="preserve">30</text>
<text x="1687.700" y="869.400" font-size="10.100" fill="#000" textLength="4.900" lengthAdjust="spacingAndGlyphs" xml:space="preserve">0</text>
<g shape-rendering="crispEdges" fill="#000">
<rect x="3" y="873" width="1" height="3"/>
<rect x="67" y="873" width="1" height="3"/>
<rect x="131" y="873" width="1" height="3"/>
<rect x="195" y="873" width="1" height="3"/>
<rect x="259" y="873" width="1" height="3"/>
<rect x="323" y="873" width="1" height="3"/>
<rect x="387" y="873" width="1" height="3"/>
<rect x="451" y="873" width="1" height="3"/>
<rect x="515" y="873" width="1" height="3"/>
<rect x="579" y="873" width="1" height="3"/>
<rect x="643" y="873" width="1" height="3"/>
<rect x="707" y="873" width="1" height="3"/>
<rect x="771" y="873" width="1" height="3"/>
<rect x="835" y="873" width="1" height="3"/>
<rect x="899" y="873" width="1" height="3"/>
<rect x="963" y="873" width="1" height="3"/>
<rect x="1027" y="873" width="1" height="3"/>
<rect x="1091" y="873" width="1" height="3"/>
<rect x="1155" y="873" width="1" height="3"/>
<rect x="1219" y="873" width="1" height="3"/>
<rect x="1283" y="873" width="1" height="3"/>
</g>
<text x="2.600" y="884.700" font-size="10.100" fill="#000" textLength="53.700" lengthAdjust="spacingAndGlyphs" xml:space="preserve">11 Nov 2020</text>
<text x="66.600" y="884.700" font-size="10.100" fill="#000" textLength="57.100" lengthAdjust="spacingAndGlyphs" xml:space="preserve">12 Nov 12:00</text>
<text x="130.600" y="884.700" font-size="10.100" fill="#000" textLength="57.100" lengthAdjust="spacingAndGlyphs" xml:space="preserve">15 Nov 23:00</text>
<text x="194.600" y="884.700" font-size="10.100" fill="#000" textLength="57.100" lengthAdjust="spacingAndGlyphs" xml:space="preserve">17 Nov 04:00</text>
<text x="258.600" y="884.700" font-size="10.100" fill="#000" textLength="57.100" lengthAdjust="spacingAndGlyphs" xml:space="preserve">18 Nov 12:00</text>
<text x="322.600" y="884.700" font-size="10.100" fill="#000" textLength="57.100" lengthAdjust="spacingAndGlyphs" xml:space="preserve">19 Nov 20:00</text>
<text x="386.600" y="884.700" font-size="10.100" fill="#000" textLength="57.100" lengthAdjust="spacingAndGlyphs" xml:space="preserve">23 Nov 04:00</text>
<text x="450.600" y="884.700" font-size="10.100" fill="#000" textLength="57.100" lengthAdjust="spacingAndGlyphs" xml:space="preserve">24 Nov 12:00</text>
<text x="514.600" y="884.700" font-size="10.100" fill="#000" textLength="57.100" lengthAdjust="spacingAndGlyphs" xml:space="preserve">25 Nov 20:00</text>
<text x="578.600" y="884.700" font-size="10.100" fill="#000" textLength="57.100" lengthAdjust="spacingAndGlyphs" xml:space="preserve">27 Nov 04:00</text>
<text x="642.600" y="884.700" font-size="10.100" fill="#000" textLength="57.100" lengthAdjust="spacingAndGlyphs" xml:space="preserve">30 Nov 12:00</text>
<text x="706.600" y="884.700" font-size="10.100" fill="#000" textLength="51.700" lengthAdjust="spacingAndGlyphs" xml:space="preserve">1 Dec 20:00</text>
<text x="770.600" y="884.700" font-size="10.100" fill="#000" textLength="51.700" lengthAdjust="spacingAndGlyphs" xml:space="preserve">3 Dec 04:00</text>
<text x="834.600" y="884.700" font-size="10.100" fill="#000" textLength="51.700" lengthAdjust="spacingAndGlyphs" xml:space="preserve">4 Dec 12:00</text>
<text x="898.600" y="884.700" font-size="10.100" fill="#000" textLength="51.700" lengthAdjust="spacingAndGlyphs" xml:space="preserve">7 Dec 20:00</text>
<text x="962.600" y="884.700" font-size="10.100" fill="#000" textLength="51.700" lengthAdjust="spacingAndGlyphs" xml:space="preserve">9 Dec 04:00</text>
<text x="1026.600" y="884.700" font-size="10.100" fill="#000" textLength="57.100" lengthAdjust="spacingAndGlyphs" xml:space="preserve">10 Dec 12:00</text>
<text x="1090.600" y="884.700" font-size="10.100" fill="#000" textLength="57.100" lengthAdjust="spacingAndGlyphs" xml:space="preserve">13 Dec 23:00</text>
<text x="1154.600" y="884.700" font-size="10.100" fill="#000" textLength="57.100" lengthAdjust="spacingAndGlyphs" xml:space="preserve">15 Dec 04:00</text>
<text x="1218.600" y="884.700" font-size="10.100" fill="#000" textLength="57.100" lengthAdjust="spacingAndGlyphs" xml:space="preserve">16 Dec 12:00</text>
<text x="1282.600" y="884.700" font-size="10.100" fill="#000" textLength="57.100" lengthAdjust="spacingAndGlyphs" xml:space="preserve">17 Dec 20:00</text>
</svg></body></html>
